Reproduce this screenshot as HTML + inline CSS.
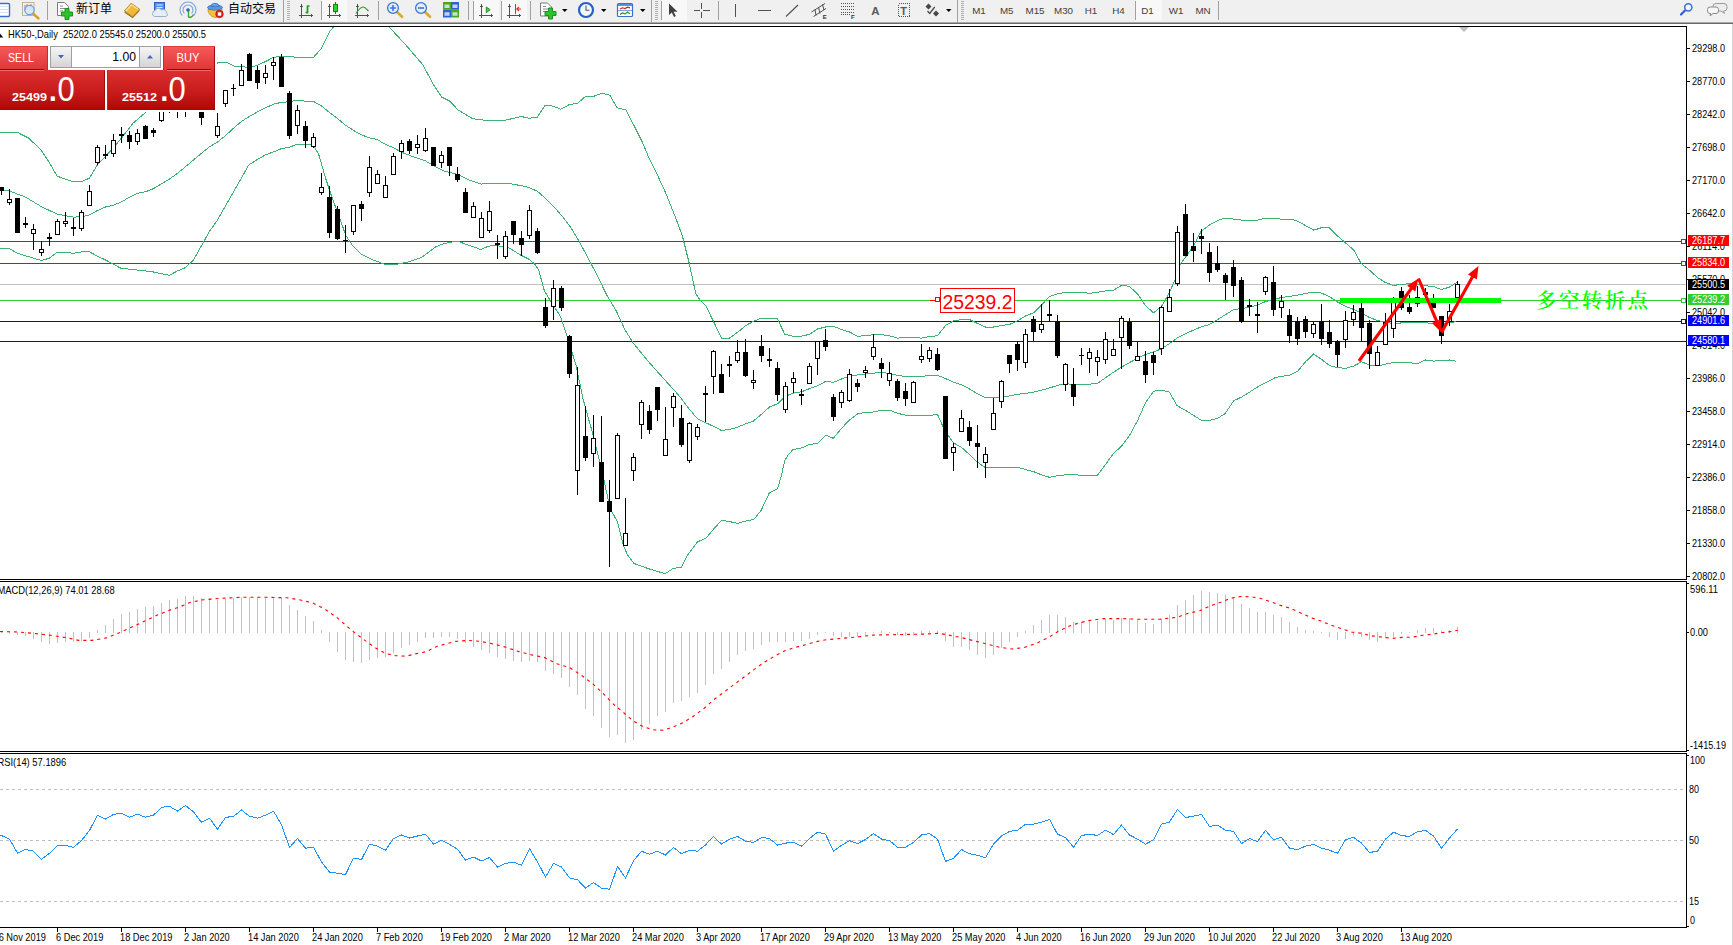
<!DOCTYPE html>
<html lang="zh"><head><meta charset="utf-8"><title>HK50-,Daily</title>
<style>html,body{margin:0;padding:0;background:#fff;overflow:hidden}svg{display:block}text{white-space:pre}</style>
</head><body>
<svg width="1733" height="945" viewBox="0 0 1733 945">
<defs>
<linearGradient id="gTab" x1="0" y1="0" x2="0" y2="1"><stop offset="0" stop-color="#f65a5a"/><stop offset="1" stop-color="#de3434"/></linearGradient>
<linearGradient id="gBox" x1="0" y1="0" x2="0" y2="1"><stop offset="0" stop-color="#dc3030"/><stop offset="0.55" stop-color="#c81c1c"/><stop offset="1" stop-color="#ae0606"/></linearGradient>
<linearGradient id="gBtn" x1="0" y1="0" x2="0" y2="1"><stop offset="0" stop-color="#f5f5f5"/><stop offset="0.5" stop-color="#e6e6e6"/><stop offset="1" stop-color="#d4d4d4"/></linearGradient>
<clipPath id="cMain"><rect x="0" y="27" width="1686" height="552"/></clipPath>
<clipPath id="cMacd"><rect x="0" y="582" width="1686" height="169"/></clipPath>
<clipPath id="cRsi"><rect x="0" y="754" width="1686" height="173"/></clipPath>
</defs>
<rect x="0" y="0" width="1733" height="945" fill="#ffffff" />
<g clip-path="url(#cMain)">
<g shape-rendering="crispEdges">
<rect x="0" y="284" width="1686" height="1" fill="#c0c0c0" />
<rect x="0" y="241" width="1686" height="1" fill="#ff0000" />
<rect x="0" y="263" width="1686" height="1" fill="#ff0000" />
<rect x="0" y="300" width="1686" height="1" fill="#32cd32" />
<rect x="0" y="321" width="1686" height="1" fill="#0000ff" />
<rect x="0" y="341" width="1686" height="1" fill="#0000ff" />
</g>
<polyline points="0,132.4 17.5,132.4 28.6,138.1 41,149.9 49.5,162.9 57.1,176.2 72.4,181.5 81.9,181.5 89.5,178.1 97.5,164.8 105.5,156.2 113.5,147.6 121.5,138.1 133.3,122.9 145.7,112.4 217.4,63 226.3,62 233.7,66 241.8,66.7 249.5,67.5 257.5,65.2 265.5,61.5 273.5,57.4 281.5,56.1 289.5,56.4 297.5,57.4 313.5,57.4 321.5,48.2 329.5,31.9 333.6,26.7 340,10 380,10 389.4,27.3 406.9,46.2 423,65 433.7,85.1 441.8,97.2 449.9,101.2 457.9,109.8 472.7,118.7 487.5,120.6 506.3,120 521.1,116.5 529.1,118.2 537.2,117.4 545.2,105.3 553.3,106.1 560.6,109.3 569.4,104.5 577.5,103.4 585.5,96.4 593.6,96.4 601.7,93.2 609.7,95.1 617.2,107.9 625.8,109.8 633.9,125.4 642,141.5 650,160.3 658.1,176.5 666.1,193.9 674.2,214.1 682.3,235.6 689,262.4 692.8,280 695.9,293.8 700,300 705.7,305.7 713.3,321 721.9,339 729.5,338.1 737.5,332.4 745.5,325.7 753.5,321.3 761,318.3 769.5,319 777.1,318.3 784.8,334.3 793.3,336.2 801.5,336.2 809.5,334.3 817.5,329 825.5,327 833.5,326.3 841.5,329.5 849.5,332 857.5,336.2 865.5,335.8 873.5,334.7 881.5,334.7 889.5,335.8 897.5,338.1 905.5,337.7 913.5,337.7 921.5,338.1 929.5,336.6 937.5,335.8 945.5,325.5 953.5,320.9 961.5,319.6 969.6,319.6 977.4,323.4 985.5,327 993.5,327 1001.6,325.5 1009.4,324.5 1017.4,320.9 1025.5,316 1033.5,312.8 1041.6,305 1049.4,296.5 1057.5,293.8 1065.5,292.3 1073.5,292.3 1081.6,292.3 1089.4,293.3 1097.5,292.3 1105.5,291 1113.6,290.2 1121.6,285.3 1129.4,286.4 1137.5,293.8 1145.5,305.8 1153.6,312.8 1161.4,306.5 1169,293.5 1175.1,279.4 1180.1,264.3 1186.1,256.3 1193.2,246.3 1201.2,231.2 1209.2,225.2 1218.3,220.1 1225.3,218.1 1233.4,219.1 1241.4,220.1 1249.4,220.1 1257.5,220.1 1265.5,218.1 1273.6,218.7 1281.6,219.1 1290.7,219.1 1297.7,221.1 1305.5,225.6 1313.8,230.2 1321.8,227.6 1328.8,227.2 1337.9,236.2 1345.9,243.2 1354,250.3 1361,263.3 1369.9,270.6 1377.5,277.5 1385,282.3 1393.3,285.4 1401.5,284.4 1409.5,283.7 1417.5,284.7 1425.5,285.8 1433.4,286.5 1441.4,289.6 1449.5,287.1 1457.5,281.9" fill="none" stroke="#3cb371" stroke-width="1" shape-rendering="crispEdges"/>
<polyline points="0,189.9 9.5,191 25.5,197.1 41.5,206.7 57.5,214.3 73.5,217.1 81.5,216.8 89.5,214.9 97.5,210.5 105.5,207 113.5,205.1 121.5,201.9 129.5,197.1 137.5,193.3 145.5,191.8 153.5,188.6 161.5,183.8 169.5,179 177.5,173.3 185.5,166.7 193.5,160 201.5,153.3 209.5,146.7 217.5,142 225.5,135.6 233.5,128.2 241.5,121.5 249.5,116.3 257.5,111.9 265.5,107.8 273.5,104.2 281.5,102.3 289.5,101.8 297.5,100.1 305.5,101.2 313.5,101.5 321.5,106 329.5,112.6 337.5,118.6 345.5,125.2 353.5,130.4 361.5,134.9 369.5,137.8 377.5,139.7 385.5,144.5 393.5,147.7 401.6,152.3 415.1,157.4 425.3,160.8 435.4,166.7 443.9,170.9 457.4,174.3 469.3,180.2 481.1,184.1 494.6,183.1 509.9,183.6 521.7,185.8 529.1,187.5 537.2,191.2 545.2,198 553.3,206 562.7,216.8 570.8,227.5 578.8,240.9 586.9,255.7 594.6,270.5 607.8,297 616.5,311.3 625.2,330.3 633.2,343 647.5,360.5 660.2,374.8 676,392.2 682.4,400 688.1,407.6 697.6,419 705.5,422.7 713.5,426.3 721.5,430.5 729.5,429.5 737.5,427.2 745.5,423.8 753.5,421 761.5,414.3 769.5,407 777.5,403.8 785.5,396.2 793.5,393 801.5,391.8 809.5,388.6 817.5,385.7 825.5,381.5 833.5,382.3 841.5,379 849.5,376.2 857.5,374.9 865.5,373.9 873.5,373.3 881.5,372 889.5,373.9 897.5,375.2 905.5,376.6 913.5,376.6 921.5,376.2 929.5,375.8 937.5,375.3 945.5,378.5 953.5,382.3 961.5,384.8 969.6,389 977.4,393.9 985.5,397.5 993.5,397.5 1001.6,397.1 1009.4,396 1017.4,394.3 1025.5,393.3 1033.5,392.2 1041.6,390.1 1049.4,388 1057.5,385.4 1065.5,383.7 1073.5,384.4 1081.6,384.4 1089.4,384.2 1097.5,383.3 1105.5,377.8 1113.6,372.1 1121.6,367.2 1129.4,362.6 1137.5,358.3 1145.5,354.5 1153.6,352 1161.4,348.8 1169.4,343.7 1177.5,337.7 1185.5,333.7 1193.6,330.1 1201.6,326.7 1209.4,324.6 1217.5,319.6 1225.5,314.6 1233.6,309.6 1241.4,308.6 1249.4,307.2 1257.5,305.2 1265.5,301.5 1273.6,299.5 1281.6,297.5 1289.4,296.5 1297.5,295.1 1305.5,293.5 1313.6,292.1 1321.4,293.1 1329.4,296.5 1337.6,302 1345.5,306.3 1353.5,309.4 1361.5,313 1369.5,317.5 1377.5,320.5 1385.4,322.1 1393.4,323.8 1401.5,322.9 1409.5,322.6 1417.5,322.2 1425.5,322.9 1433.4,323.2 1441.4,323.3 1449.5,322.9 1455.9,321.5" fill="none" stroke="#3cb371" stroke-width="1" shape-rendering="crispEdges"/>
<polyline points="0,248.2 8.6,248.2 17.5,253.3 25.5,255.8 33.5,258.1 41.5,260.6 49.5,258.1 57.1,252.4 65.5,252.4 73.5,253.3 81.5,252 88.6,251.4 97.5,256.2 105.5,260 113.5,264.2 121.5,268.6 129.5,269.1 137.5,270.1 145.5,270.9 153.5,272 161.5,273.7 169.5,275.2 177.5,270.9 185.5,267.6 193.5,260 201.5,245.7 209.5,231.4 217.5,220 225.5,206 233.5,192 241.5,178 248.5,165.2 257.5,159.3 265.5,154.9 273.5,151.9 281.5,148.6 289.5,147.1 297.5,144.2 305.5,144 310.7,144.5 313.5,145.5 318.6,154 325.4,177.7 332.2,198 339.8,218.3 345.7,235.3 352.5,245.4 360.9,253.9 372.8,259.8 386.3,264.9 398.2,264 410,261.5 421.9,257.3 428.6,252.2 435.4,247.1 442.2,244.1 452.3,242 457.4,241.2 469.3,245.4 481.1,249.6 487.9,246.3 494.6,245.4 508.2,247.4 520,254.7 528.5,259 534.5,263.8 538.7,270 544.3,290.6 550.6,301 560.2,316 567.3,336.7 576,365.2 583.3,400 592.9,434.3 602.4,472.4 610,508.6 617.6,521.9 623.3,544.8 627.1,554.3 633.8,563.4 648.1,568.6 665.2,573.7 672.9,568.6 681.4,567.2 688.1,554.3 697.6,541.9 705.9,538.2 713.5,529.2 721.5,520.4 729.6,521.6 737.6,523.3 745.7,521.1 753.8,519.4 761,510.6 769.4,492.8 777.5,488.9 781.3,475.9 784.7,460.6 788.9,453.9 793.1,449.6 801.6,447.9 809.2,444.6 817.7,443.4 825.6,435.2 833.3,438.3 842.2,427.6 849.5,420 857.5,413.9 865.5,412.4 873.5,412 881.5,410.1 889.5,410.1 897.5,413.3 905.5,415.2 913.5,415.2 921.5,415.6 929.5,415.6 937.5,414.3 942.7,426.1 949.1,436.7 953.5,443 961.5,447.3 969.6,454.7 977.4,462.1 985.5,467.8 993.5,467.8 1001.6,467.8 1009.4,467.8 1017.4,467.4 1025.5,469.5 1033.5,471.6 1041.6,474.8 1049.4,477.3 1057.5,475.8 1065.5,474.8 1073.5,474.8 1081.6,475.2 1089.4,475.2 1097.5,475.2 1105.5,464.6 1113.6,453.2 1121.6,446.2 1129.4,435.6 1137.5,420.8 1145.5,402.8 1153.6,391.2 1161.4,390.1 1169.5,392.2 1177,405.6 1185.2,410.3 1193.5,415.3 1201.5,420.4 1210,420.4 1217.6,418.3 1225.2,413.6 1233.5,400.9 1241.7,397 1250,391.8 1258.3,386.5 1266.5,382.3 1275.4,377.6 1281.7,376.3 1289.4,375.3 1297.6,371.3 1305.6,361.7 1313.5,354.1 1321.7,359.5 1329.4,365.5 1337.6,367.6 1345.5,368.3 1353.5,366.2 1361.5,361.7 1369.5,365.3 1377.5,366 1385.4,364.2 1393.4,362.5 1401.5,362.4 1409.5,362.8 1417.5,363.5 1425.5,360 1433.4,361.1 1441.4,360.7 1449.5,360 1456.5,361.4" fill="none" stroke="#3cb371" stroke-width="1" shape-rendering="crispEdges"/>
<g shape-rendering="crispEdges">
<rect x="1" y="187" width="1" height="8" fill="#000" />
<rect x="-1" y="187" width="5" height="4" fill="#000" />
<rect x="9" y="189" width="1" height="16" fill="#000" />
<rect x="7" y="199" width="5" height="4" fill="#000" />
<rect x="8" y="200" width="3" height="2" fill="#fff" />
<rect x="17" y="198" width="1" height="35" fill="#000" />
<rect x="15" y="198" width="5" height="35" fill="#000" />
<rect x="25" y="217" width="1" height="11" fill="#000" />
<rect x="23" y="223" width="5" height="2" fill="#000" />
<rect x="33" y="224" width="1" height="26" fill="#000" />
<rect x="31" y="229" width="5" height="5" fill="#000" />
<rect x="32" y="230" width="3" height="3" fill="#fff" />
<rect x="41" y="241" width="1" height="15" fill="#000" />
<rect x="39" y="249" width="5" height="4" fill="#000" />
<rect x="40" y="250" width="3" height="2" fill="#fff" />
<rect x="49" y="233" width="1" height="13" fill="#000" />
<rect x="47" y="237" width="5" height="2" fill="#000" />
<rect x="57" y="219" width="1" height="16" fill="#000" />
<rect x="55" y="221" width="5" height="14" fill="#000" />
<rect x="56" y="222" width="3" height="12" fill="#fff" />
<rect x="65" y="212" width="1" height="15" fill="#000" />
<rect x="63" y="221" width="5" height="3" fill="#000" />
<rect x="64" y="222" width="3" height="1" fill="#fff" />
<rect x="73" y="218" width="1" height="18" fill="#000" />
<rect x="71" y="227" width="5" height="2" fill="#000" />
<rect x="81" y="210" width="1" height="21" fill="#000" />
<rect x="79" y="212" width="5" height="17" fill="#000" />
<rect x="80" y="213" width="3" height="15" fill="#fff" />
<rect x="89" y="185" width="1" height="21" fill="#000" />
<rect x="87" y="191" width="5" height="15" fill="#000" />
<rect x="88" y="192" width="3" height="13" fill="#fff" />
<rect x="97" y="145" width="1" height="20" fill="#000" />
<rect x="95" y="147" width="5" height="16" fill="#000" />
<rect x="96" y="148" width="3" height="14" fill="#fff" />
<rect x="105" y="145" width="1" height="14" fill="#000" />
<rect x="103" y="154" width="5" height="2" fill="#000" />
<rect x="113" y="134" width="1" height="23" fill="#000" />
<rect x="111" y="140" width="5" height="14" fill="#000" />
<rect x="112" y="141" width="3" height="12" fill="#fff" />
<rect x="121" y="127" width="1" height="16" fill="#000" />
<rect x="119" y="134" width="5" height="2" fill="#000" />
<rect x="129" y="131" width="1" height="18" fill="#000" />
<rect x="127" y="135" width="5" height="7" fill="#000" />
<rect x="137" y="129" width="1" height="16" fill="#000" />
<rect x="135" y="133" width="5" height="9" fill="#000" />
<rect x="136" y="134" width="3" height="7" fill="#fff" />
<rect x="145" y="125" width="1" height="14" fill="#000" />
<rect x="143" y="126" width="5" height="13" fill="#000" />
<rect x="153" y="128" width="1" height="9" fill="#000" />
<rect x="151" y="130" width="5" height="3" fill="#000" />
<rect x="161" y="100" width="1" height="22" fill="#000" />
<rect x="159" y="104" width="5" height="17" fill="#000" />
<rect x="160" y="105" width="3" height="15" fill="#fff" />
<rect x="169" y="100" width="1" height="13" fill="#000" />
<rect x="167" y="108" width="5" height="1" fill="#000" />
<rect x="177" y="100" width="1" height="18" fill="#000" />
<rect x="175" y="106" width="5" height="1" fill="#000" />
<rect x="185" y="100" width="1" height="17" fill="#000" />
<rect x="183" y="105" width="5" height="1" fill="#000" />
<rect x="193" y="95" width="1" height="14" fill="#000" />
<rect x="191" y="98" width="5" height="10" fill="#000" />
<rect x="201" y="100" width="1" height="25" fill="#000" />
<rect x="199" y="100" width="5" height="18" fill="#000" />
<rect x="209" y="96" width="1" height="13" fill="#000" />
<rect x="207" y="98" width="5" height="10" fill="#000" />
<rect x="208" y="99" width="3" height="8" fill="#fff" />
<rect x="217" y="113" width="1" height="25" fill="#000" />
<rect x="215" y="126" width="5" height="10" fill="#000" />
<rect x="216" y="127" width="3" height="8" fill="#fff" />
<rect x="225" y="90" width="1" height="17" fill="#000" />
<rect x="223" y="90" width="5" height="14" fill="#000" />
<rect x="224" y="91" width="3" height="12" fill="#fff" />
<rect x="233" y="84" width="1" height="12" fill="#000" />
<rect x="231" y="88" width="5" height="1" fill="#000" />
<rect x="241" y="64" width="1" height="22" fill="#000" />
<rect x="239" y="70" width="5" height="16" fill="#000" />
<rect x="240" y="71" width="3" height="14" fill="#fff" />
<rect x="249" y="53" width="1" height="28" fill="#000" />
<rect x="247" y="54" width="5" height="27" fill="#000" />
<rect x="257" y="66" width="1" height="23" fill="#000" />
<rect x="255" y="70" width="5" height="13" fill="#000" />
<rect x="265" y="65" width="1" height="19" fill="#000" />
<rect x="263" y="73" width="5" height="5" fill="#000" />
<rect x="264" y="74" width="3" height="3" fill="#fff" />
<rect x="273" y="57" width="1" height="23" fill="#000" />
<rect x="271" y="62" width="5" height="4" fill="#000" />
<rect x="272" y="63" width="3" height="2" fill="#fff" />
<rect x="281" y="54" width="1" height="33" fill="#000" />
<rect x="279" y="57" width="5" height="30" fill="#000" />
<rect x="289" y="91" width="1" height="48" fill="#000" />
<rect x="287" y="93" width="5" height="43" fill="#000" />
<rect x="297" y="105" width="1" height="29" fill="#000" />
<rect x="295" y="110" width="5" height="16" fill="#000" />
<rect x="296" y="111" width="3" height="14" fill="#fff" />
<rect x="305" y="121" width="1" height="27" fill="#000" />
<rect x="303" y="126" width="5" height="15" fill="#000" />
<rect x="313" y="133" width="1" height="15" fill="#000" />
<rect x="311" y="137" width="5" height="10" fill="#000" />
<rect x="312" y="138" width="3" height="8" fill="#fff" />
<rect x="321" y="173" width="1" height="22" fill="#000" />
<rect x="319" y="187" width="5" height="6" fill="#000" />
<rect x="320" y="188" width="3" height="4" fill="#fff" />
<rect x="329" y="186" width="1" height="52" fill="#000" />
<rect x="327" y="197" width="5" height="36" fill="#000" />
<rect x="337" y="206" width="1" height="34" fill="#000" />
<rect x="335" y="209" width="5" height="30" fill="#000" />
<rect x="345" y="225" width="1" height="28" fill="#000" />
<rect x="343" y="240" width="5" height="1" fill="#000" />
<rect x="353" y="205" width="1" height="30" fill="#000" />
<rect x="351" y="205" width="5" height="27" fill="#000" />
<rect x="352" y="206" width="3" height="25" fill="#fff" />
<rect x="361" y="201" width="1" height="20" fill="#000" />
<rect x="359" y="204" width="5" height="5" fill="#000" />
<rect x="369" y="156" width="1" height="41" fill="#000" />
<rect x="367" y="167" width="5" height="26" fill="#000" />
<rect x="368" y="168" width="3" height="24" fill="#fff" />
<rect x="377" y="170" width="1" height="14" fill="#000" />
<rect x="375" y="174" width="5" height="10" fill="#000" />
<rect x="376" y="175" width="3" height="8" fill="#fff" />
<rect x="385" y="176" width="1" height="22" fill="#000" />
<rect x="383" y="185" width="5" height="13" fill="#000" />
<rect x="384" y="186" width="3" height="11" fill="#fff" />
<rect x="393" y="153" width="1" height="22" fill="#000" />
<rect x="391" y="156" width="5" height="19" fill="#000" />
<rect x="392" y="157" width="3" height="17" fill="#fff" />
<rect x="401" y="140" width="1" height="19" fill="#000" />
<rect x="399" y="143" width="5" height="9" fill="#000" />
<rect x="400" y="144" width="3" height="7" fill="#fff" />
<rect x="409" y="139" width="1" height="15" fill="#000" />
<rect x="407" y="141" width="5" height="10" fill="#000" />
<rect x="417" y="135" width="1" height="19" fill="#000" />
<rect x="415" y="144" width="5" height="4" fill="#000" />
<rect x="416" y="145" width="3" height="2" fill="#fff" />
<rect x="425" y="128" width="1" height="24" fill="#000" />
<rect x="423" y="138" width="5" height="13" fill="#000" />
<rect x="424" y="139" width="3" height="11" fill="#fff" />
<rect x="433" y="147" width="1" height="19" fill="#000" />
<rect x="431" y="147" width="5" height="19" fill="#000" />
<rect x="441" y="151" width="1" height="17" fill="#000" />
<rect x="439" y="155" width="5" height="8" fill="#000" />
<rect x="440" y="156" width="3" height="6" fill="#fff" />
<rect x="449" y="147" width="1" height="29" fill="#000" />
<rect x="447" y="147" width="5" height="19" fill="#000" />
<rect x="457" y="167" width="1" height="15" fill="#000" />
<rect x="455" y="174" width="5" height="6" fill="#000" />
<rect x="465" y="188" width="1" height="25" fill="#000" />
<rect x="463" y="192" width="5" height="21" fill="#000" />
<rect x="473" y="202" width="1" height="16" fill="#000" />
<rect x="471" y="206" width="5" height="12" fill="#000" />
<rect x="472" y="207" width="3" height="10" fill="#fff" />
<rect x="481" y="212" width="1" height="26" fill="#000" />
<rect x="479" y="218" width="5" height="20" fill="#000" />
<rect x="480" y="219" width="3" height="18" fill="#fff" />
<rect x="489" y="201" width="1" height="32" fill="#000" />
<rect x="487" y="211" width="5" height="20" fill="#000" />
<rect x="488" y="212" width="3" height="18" fill="#fff" />
<rect x="497" y="235" width="1" height="24" fill="#000" />
<rect x="495" y="243" width="5" height="2" fill="#000" />
<rect x="505" y="231" width="1" height="28" fill="#000" />
<rect x="503" y="236" width="5" height="21" fill="#000" />
<rect x="504" y="237" width="3" height="19" fill="#fff" />
<rect x="513" y="221" width="1" height="23" fill="#000" />
<rect x="511" y="221" width="5" height="14" fill="#000" />
<rect x="521" y="231" width="1" height="25" fill="#000" />
<rect x="519" y="238" width="5" height="7" fill="#000" />
<rect x="529" y="205" width="1" height="34" fill="#000" />
<rect x="527" y="210" width="5" height="26" fill="#000" />
<rect x="528" y="211" width="3" height="24" fill="#fff" />
<rect x="537" y="228" width="1" height="26" fill="#000" />
<rect x="535" y="231" width="5" height="22" fill="#000" />
<rect x="545" y="298" width="1" height="30" fill="#000" />
<rect x="543" y="307" width="5" height="19" fill="#000" />
<rect x="553" y="280" width="1" height="40" fill="#000" />
<rect x="551" y="288" width="5" height="19" fill="#000" />
<rect x="552" y="289" width="3" height="17" fill="#fff" />
<rect x="561" y="286" width="1" height="25" fill="#000" />
<rect x="559" y="288" width="5" height="20" fill="#000" />
<rect x="569" y="335" width="1" height="43" fill="#000" />
<rect x="567" y="336" width="5" height="38" fill="#000" />
<rect x="577" y="367" width="1" height="128" fill="#000" />
<rect x="575" y="385" width="5" height="86" fill="#000" />
<rect x="576" y="386" width="3" height="84" fill="#fff" />
<rect x="585" y="406" width="1" height="55" fill="#000" />
<rect x="583" y="436" width="5" height="22" fill="#000" />
<rect x="593" y="415" width="1" height="52" fill="#000" />
<rect x="591" y="438" width="5" height="16" fill="#000" />
<rect x="592" y="439" width="3" height="14" fill="#fff" />
<rect x="601" y="416" width="1" height="86" fill="#000" />
<rect x="599" y="462" width="5" height="40" fill="#000" />
<rect x="609" y="480" width="1" height="87" fill="#000" />
<rect x="607" y="501" width="5" height="11" fill="#000" />
<rect x="617" y="433" width="1" height="66" fill="#000" />
<rect x="615" y="435" width="5" height="64" fill="#000" />
<rect x="616" y="436" width="3" height="62" fill="#fff" />
<rect x="625" y="498" width="1" height="48" fill="#000" />
<rect x="623" y="533" width="5" height="13" fill="#000" />
<rect x="624" y="534" width="3" height="11" fill="#fff" />
<rect x="633" y="453" width="1" height="28" fill="#000" />
<rect x="631" y="457" width="5" height="14" fill="#000" />
<rect x="632" y="458" width="3" height="12" fill="#fff" />
<rect x="641" y="400" width="1" height="39" fill="#000" />
<rect x="639" y="402" width="5" height="23" fill="#000" />
<rect x="640" y="403" width="3" height="21" fill="#fff" />
<rect x="649" y="405" width="1" height="29" fill="#000" />
<rect x="647" y="411" width="5" height="19" fill="#000" />
<rect x="657" y="387" width="1" height="34" fill="#000" />
<rect x="655" y="387" width="5" height="23" fill="#000" />
<rect x="665" y="407" width="1" height="49" fill="#000" />
<rect x="663" y="439" width="5" height="17" fill="#000" />
<rect x="664" y="440" width="3" height="15" fill="#fff" />
<rect x="673" y="393" width="1" height="34" fill="#000" />
<rect x="671" y="396" width="5" height="12" fill="#000" />
<rect x="672" y="397" width="3" height="10" fill="#fff" />
<rect x="681" y="405" width="1" height="42" fill="#000" />
<rect x="679" y="418" width="5" height="27" fill="#000" />
<rect x="689" y="422" width="1" height="41" fill="#000" />
<rect x="687" y="423" width="5" height="38" fill="#000" />
<rect x="688" y="424" width="3" height="36" fill="#fff" />
<rect x="697" y="424" width="1" height="16" fill="#000" />
<rect x="695" y="427" width="5" height="10" fill="#000" />
<rect x="696" y="428" width="3" height="8" fill="#fff" />
<rect x="705" y="386" width="1" height="36" fill="#000" />
<rect x="703" y="393" width="5" height="2" fill="#000" />
<rect x="713" y="350" width="1" height="44" fill="#000" />
<rect x="711" y="351" width="5" height="26" fill="#000" />
<rect x="712" y="352" width="3" height="24" fill="#fff" />
<rect x="721" y="364" width="1" height="29" fill="#000" />
<rect x="719" y="374" width="5" height="19" fill="#000" />
<rect x="729" y="356" width="1" height="21" fill="#000" />
<rect x="727" y="364" width="5" height="2" fill="#000" />
<rect x="737" y="340" width="1" height="23" fill="#000" />
<rect x="735" y="352" width="5" height="9" fill="#000" />
<rect x="736" y="353" width="3" height="7" fill="#fff" />
<rect x="745" y="339" width="1" height="38" fill="#000" />
<rect x="743" y="352" width="5" height="24" fill="#000" />
<rect x="753" y="370" width="1" height="19" fill="#000" />
<rect x="751" y="380" width="5" height="3" fill="#000" />
<rect x="752" y="381" width="3" height="1" fill="#fff" />
<rect x="761" y="335" width="1" height="27" fill="#000" />
<rect x="759" y="346" width="5" height="10" fill="#000" />
<rect x="769" y="348" width="1" height="19" fill="#000" />
<rect x="767" y="359" width="5" height="2" fill="#000" />
<rect x="777" y="362" width="1" height="39" fill="#000" />
<rect x="775" y="368" width="5" height="27" fill="#000" />
<rect x="785" y="382" width="1" height="31" fill="#000" />
<rect x="783" y="386" width="5" height="24" fill="#000" />
<rect x="784" y="387" width="3" height="22" fill="#fff" />
<rect x="793" y="372" width="1" height="21" fill="#000" />
<rect x="791" y="378" width="5" height="5" fill="#000" />
<rect x="792" y="379" width="3" height="3" fill="#fff" />
<rect x="801" y="389" width="1" height="16" fill="#000" />
<rect x="799" y="394" width="5" height="2" fill="#000" />
<rect x="809" y="363" width="1" height="21" fill="#000" />
<rect x="807" y="366" width="5" height="18" fill="#000" />
<rect x="808" y="367" width="3" height="16" fill="#fff" />
<rect x="817" y="341" width="1" height="34" fill="#000" />
<rect x="815" y="341" width="5" height="18" fill="#000" />
<rect x="816" y="342" width="3" height="16" fill="#fff" />
<rect x="825" y="329" width="1" height="22" fill="#000" />
<rect x="823" y="340" width="5" height="7" fill="#000" />
<rect x="833" y="394" width="1" height="27" fill="#000" />
<rect x="831" y="397" width="5" height="20" fill="#000" />
<rect x="841" y="390" width="1" height="18" fill="#000" />
<rect x="839" y="392" width="5" height="11" fill="#000" />
<rect x="840" y="393" width="3" height="9" fill="#fff" />
<rect x="849" y="369" width="1" height="33" fill="#000" />
<rect x="847" y="374" width="5" height="27" fill="#000" />
<rect x="848" y="375" width="3" height="25" fill="#fff" />
<rect x="857" y="379" width="1" height="13" fill="#000" />
<rect x="855" y="383" width="5" height="4" fill="#000" />
<rect x="865" y="366" width="1" height="12" fill="#000" />
<rect x="863" y="370" width="5" height="3" fill="#000" />
<rect x="864" y="371" width="3" height="1" fill="#fff" />
<rect x="873" y="334" width="1" height="26" fill="#000" />
<rect x="871" y="347" width="5" height="10" fill="#000" />
<rect x="872" y="348" width="3" height="8" fill="#fff" />
<rect x="881" y="358" width="1" height="20" fill="#000" />
<rect x="879" y="363" width="5" height="6" fill="#000" />
<rect x="889" y="362" width="1" height="24" fill="#000" />
<rect x="887" y="373" width="5" height="8" fill="#000" />
<rect x="888" y="374" width="3" height="6" fill="#fff" />
<rect x="897" y="379" width="1" height="22" fill="#000" />
<rect x="895" y="381" width="5" height="17" fill="#000" />
<rect x="905" y="383" width="1" height="23" fill="#000" />
<rect x="903" y="391" width="5" height="8" fill="#000" />
<rect x="913" y="381" width="1" height="22" fill="#000" />
<rect x="911" y="382" width="5" height="21" fill="#000" />
<rect x="912" y="383" width="3" height="19" fill="#fff" />
<rect x="921" y="344" width="1" height="19" fill="#000" />
<rect x="919" y="356" width="5" height="4" fill="#000" />
<rect x="920" y="357" width="3" height="2" fill="#fff" />
<rect x="929" y="347" width="1" height="15" fill="#000" />
<rect x="927" y="350" width="5" height="9" fill="#000" />
<rect x="928" y="351" width="3" height="7" fill="#fff" />
<rect x="937" y="348" width="1" height="23" fill="#000" />
<rect x="935" y="354" width="5" height="16" fill="#000" />
<rect x="945" y="396" width="1" height="63" fill="#000" />
<rect x="943" y="396" width="5" height="63" fill="#000" />
<rect x="953" y="443" width="1" height="28" fill="#000" />
<rect x="951" y="447" width="5" height="6" fill="#000" />
<rect x="952" y="448" width="3" height="4" fill="#fff" />
<rect x="961" y="410" width="1" height="22" fill="#000" />
<rect x="959" y="418" width="5" height="14" fill="#000" />
<rect x="960" y="419" width="3" height="12" fill="#fff" />
<rect x="969" y="421" width="1" height="25" fill="#000" />
<rect x="967" y="427" width="5" height="14" fill="#000" />
<rect x="977" y="425" width="1" height="43" fill="#000" />
<rect x="975" y="443" width="5" height="4" fill="#000" />
<rect x="985" y="447" width="1" height="31" fill="#000" />
<rect x="983" y="454" width="5" height="9" fill="#000" />
<rect x="984" y="455" width="3" height="7" fill="#fff" />
<rect x="993" y="398" width="1" height="32" fill="#000" />
<rect x="991" y="413" width="5" height="17" fill="#000" />
<rect x="992" y="414" width="3" height="15" fill="#fff" />
<rect x="1001" y="380" width="1" height="28" fill="#000" />
<rect x="999" y="381" width="5" height="21" fill="#000" />
<rect x="1000" y="382" width="3" height="19" fill="#fff" />
<rect x="1009" y="355" width="1" height="18" fill="#000" />
<rect x="1007" y="355" width="5" height="9" fill="#000" />
<rect x="1017" y="341" width="1" height="30" fill="#000" />
<rect x="1015" y="344" width="5" height="16" fill="#000" />
<rect x="1025" y="329" width="1" height="39" fill="#000" />
<rect x="1023" y="334" width="5" height="29" fill="#000" />
<rect x="1024" y="335" width="3" height="27" fill="#fff" />
<rect x="1033" y="316" width="1" height="25" fill="#000" />
<rect x="1031" y="319" width="5" height="13" fill="#000" />
<rect x="1041" y="304" width="1" height="29" fill="#000" />
<rect x="1039" y="324" width="5" height="6" fill="#000" />
<rect x="1040" y="325" width="3" height="4" fill="#fff" />
<rect x="1049" y="300" width="1" height="22" fill="#000" />
<rect x="1047" y="314" width="5" height="2" fill="#000" />
<rect x="1057" y="315" width="1" height="43" fill="#000" />
<rect x="1055" y="321" width="5" height="35" fill="#000" />
<rect x="1065" y="363" width="1" height="28" fill="#000" />
<rect x="1063" y="364" width="5" height="21" fill="#000" />
<rect x="1064" y="365" width="3" height="19" fill="#fff" />
<rect x="1073" y="368" width="1" height="38" fill="#000" />
<rect x="1071" y="384" width="5" height="13" fill="#000" />
<rect x="1081" y="348" width="1" height="17" fill="#000" />
<rect x="1079" y="355" width="5" height="1" fill="#000" />
<rect x="1089" y="348" width="1" height="25" fill="#000" />
<rect x="1087" y="352" width="5" height="7" fill="#000" />
<rect x="1088" y="353" width="3" height="5" fill="#fff" />
<rect x="1097" y="350" width="1" height="26" fill="#000" />
<rect x="1095" y="357" width="5" height="5" fill="#000" />
<rect x="1096" y="358" width="3" height="3" fill="#fff" />
<rect x="1105" y="332" width="1" height="32" fill="#000" />
<rect x="1103" y="339" width="5" height="21" fill="#000" />
<rect x="1104" y="340" width="3" height="19" fill="#fff" />
<rect x="1113" y="339" width="1" height="17" fill="#000" />
<rect x="1111" y="349" width="5" height="7" fill="#000" />
<rect x="1112" y="350" width="3" height="5" fill="#fff" />
<rect x="1121" y="316" width="1" height="53" fill="#000" />
<rect x="1119" y="318" width="5" height="20" fill="#000" />
<rect x="1120" y="319" width="3" height="18" fill="#fff" />
<rect x="1129" y="318" width="1" height="31" fill="#000" />
<rect x="1127" y="322" width="5" height="24" fill="#000" />
<rect x="1137" y="341" width="1" height="20" fill="#000" />
<rect x="1135" y="356" width="5" height="5" fill="#000" />
<rect x="1136" y="357" width="3" height="3" fill="#fff" />
<rect x="1145" y="351" width="1" height="32" fill="#000" />
<rect x="1143" y="361" width="5" height="14" fill="#000" />
<rect x="1153" y="352" width="1" height="23" fill="#000" />
<rect x="1151" y="355" width="5" height="8" fill="#000" />
<rect x="1161" y="306" width="1" height="49" fill="#000" />
<rect x="1159" y="307" width="5" height="42" fill="#000" />
<rect x="1160" y="308" width="3" height="40" fill="#fff" />
<rect x="1169" y="289" width="1" height="23" fill="#000" />
<rect x="1167" y="297" width="5" height="15" fill="#000" />
<rect x="1168" y="298" width="3" height="13" fill="#fff" />
<rect x="1177" y="226" width="1" height="60" fill="#000" />
<rect x="1175" y="232" width="5" height="52" fill="#000" />
<rect x="1176" y="233" width="3" height="50" fill="#fff" />
<rect x="1185" y="204" width="1" height="52" fill="#000" />
<rect x="1183" y="214" width="5" height="42" fill="#000" />
<rect x="1193" y="233" width="1" height="29" fill="#000" />
<rect x="1191" y="246" width="5" height="5" fill="#000" />
<rect x="1201" y="229" width="1" height="25" fill="#000" />
<rect x="1199" y="236" width="5" height="3" fill="#000" />
<rect x="1209" y="243" width="1" height="39" fill="#000" />
<rect x="1207" y="252" width="5" height="21" fill="#000" />
<rect x="1217" y="246" width="1" height="26" fill="#000" />
<rect x="1215" y="263" width="5" height="7" fill="#000" />
<rect x="1225" y="273" width="1" height="27" fill="#000" />
<rect x="1223" y="275" width="5" height="8" fill="#000" />
<rect x="1233" y="260" width="1" height="37" fill="#000" />
<rect x="1231" y="267" width="5" height="19" fill="#000" />
<rect x="1241" y="277" width="1" height="46" fill="#000" />
<rect x="1239" y="280" width="5" height="42" fill="#000" />
<rect x="1249" y="299" width="1" height="17" fill="#000" />
<rect x="1247" y="305" width="5" height="2" fill="#000" />
<rect x="1257" y="302" width="1" height="31" fill="#000" />
<rect x="1255" y="314" width="5" height="2" fill="#000" />
<rect x="1265" y="276" width="1" height="19" fill="#000" />
<rect x="1263" y="277" width="5" height="15" fill="#000" />
<rect x="1264" y="278" width="3" height="13" fill="#fff" />
<rect x="1273" y="266" width="1" height="50" fill="#000" />
<rect x="1271" y="282" width="5" height="28" fill="#000" />
<rect x="1281" y="295" width="1" height="23" fill="#000" />
<rect x="1279" y="301" width="5" height="7" fill="#000" />
<rect x="1280" y="302" width="3" height="5" fill="#fff" />
<rect x="1289" y="309" width="1" height="34" fill="#000" />
<rect x="1287" y="315" width="5" height="21" fill="#000" />
<rect x="1297" y="317" width="1" height="28" fill="#000" />
<rect x="1295" y="321" width="5" height="18" fill="#000" />
<rect x="1305" y="316" width="1" height="22" fill="#000" />
<rect x="1303" y="319" width="5" height="13" fill="#000" />
<rect x="1313" y="322" width="1" height="16" fill="#000" />
<rect x="1311" y="324" width="5" height="10" fill="#000" />
<rect x="1312" y="325" width="3" height="8" fill="#fff" />
<rect x="1321" y="304" width="1" height="41" fill="#000" />
<rect x="1319" y="321" width="5" height="18" fill="#000" />
<rect x="1329" y="320" width="1" height="28" fill="#000" />
<rect x="1327" y="332" width="5" height="12" fill="#000" />
<rect x="1337" y="340" width="1" height="27" fill="#000" />
<rect x="1335" y="341" width="5" height="14" fill="#000" />
<rect x="1345" y="311" width="1" height="37" fill="#000" />
<rect x="1343" y="320" width="5" height="20" fill="#000" />
<rect x="1344" y="321" width="3" height="18" fill="#fff" />
<rect x="1353" y="305" width="1" height="21" fill="#000" />
<rect x="1351" y="312" width="5" height="8" fill="#000" />
<rect x="1352" y="313" width="3" height="6" fill="#fff" />
<rect x="1361" y="303" width="1" height="38" fill="#000" />
<rect x="1359" y="308" width="5" height="20" fill="#000" />
<rect x="1369" y="320" width="1" height="49" fill="#000" />
<rect x="1367" y="323" width="5" height="31" fill="#000" />
<rect x="1377" y="346" width="1" height="20" fill="#000" />
<rect x="1375" y="352" width="5" height="14" fill="#000" />
<rect x="1376" y="353" width="3" height="12" fill="#fff" />
<rect x="1385" y="313" width="1" height="32" fill="#000" />
<rect x="1383" y="322" width="5" height="23" fill="#000" />
<rect x="1384" y="323" width="3" height="21" fill="#fff" />
<rect x="1393" y="297" width="1" height="41" fill="#000" />
<rect x="1391" y="301" width="5" height="28" fill="#000" />
<rect x="1392" y="302" width="3" height="26" fill="#fff" />
<rect x="1401" y="287" width="1" height="23" fill="#000" />
<rect x="1399" y="291" width="5" height="17" fill="#000" />
<rect x="1409" y="295" width="1" height="19" fill="#000" />
<rect x="1407" y="307" width="5" height="5" fill="#000" />
<rect x="1417" y="286" width="1" height="21" fill="#000" />
<rect x="1415" y="297" width="5" height="7" fill="#000" />
<rect x="1416" y="298" width="3" height="5" fill="#fff" />
<rect x="1425" y="288" width="1" height="8" fill="#000" />
<rect x="1423" y="292" width="5" height="3" fill="#000" />
<rect x="1433" y="294" width="1" height="14" fill="#000" />
<rect x="1431" y="303" width="5" height="5" fill="#000" />
<rect x="1441" y="316" width="1" height="28" fill="#000" />
<rect x="1439" y="316" width="5" height="20" fill="#000" />
<rect x="1449" y="304" width="1" height="22" fill="#000" />
<rect x="1447" y="311" width="5" height="11" fill="#000" />
<rect x="1448" y="312" width="3" height="9" fill="#fff" />
<rect x="1457" y="281" width="1" height="17" fill="#000" />
<rect x="1455" y="284" width="5" height="14" fill="#000" />
<rect x="1456" y="285" width="3" height="12" fill="#fff" />
</g>
<rect x="1340" y="298" width="161" height="5" fill="#00ff00" shape-rendering="crispEdges"/>
<g shape-rendering="crispEdges">
<rect x="930" y="300" width="6" height="1" fill="#ff0000" />
<rect x="935.5" y="297.5" width="4" height="4" fill="#fff" stroke="#ff0000" stroke-width="1"/>
<rect x="940.5" y="288.5" width="74" height="24" fill="#fff" stroke="#ff0000" stroke-width="1"/>
</g>
<text x="942.5" y="308.5" font-family="Liberation Sans, sans-serif" font-size="20.5" fill="#ff0000" textLength="70" lengthAdjust="spacingAndGlyphs">25239.2</text>
<text x="1536" y="307.5" font-family="Liberation Serif, Noto Serif CJK SC, serif" font-weight="600" font-size="20.5" fill="#00ff00" textLength="112" lengthAdjust="spacing">多空转折点</text>
<line x1="1359.0" y1="361.0" x2="1412.4" y2="287.0" stroke="#ff0000" stroke-width="3.1"/>
<polygon points="1418.5,278.5 1415.3,291.6 1407.1,285.7" fill="#ff0000"/>
<line x1="1418.5" y1="278.5" x2="1437.4" y2="322.8" stroke="#ff0000" stroke-width="3.1"/>
<polygon points="1441.5,332.5 1431.9,323.0 1441.3,319.0" fill="#ff0000"/>
<line x1="1441.5" y1="332.5" x2="1473.4" y2="275.2" stroke="#ff0000" stroke-width="3.1"/>
<polygon points="1478.5,266.0 1476.9,279.4 1468.0,274.4" fill="#ff0000"/>
</g>
<g clip-path="url(#cMacd)">
<g shape-rendering="crispEdges">
<rect x="1" y="632" width="1" height="1" fill="#c0c0c0" />
<rect x="9" y="632" width="1" height="2" fill="#c0c0c0" />
<rect x="17" y="632" width="1" height="3" fill="#c0c0c0" />
<rect x="25" y="632" width="1" height="4" fill="#c0c0c0" />
<rect x="33" y="632" width="1" height="7" fill="#c0c0c0" />
<rect x="41" y="632" width="1" height="10" fill="#c0c0c0" />
<rect x="49" y="632" width="1" height="12" fill="#c0c0c0" />
<rect x="57" y="632" width="1" height="11" fill="#c0c0c0" />
<rect x="65" y="632" width="1" height="10" fill="#c0c0c0" />
<rect x="73" y="632" width="1" height="10" fill="#c0c0c0" />
<rect x="81" y="632" width="1" height="9" fill="#c0c0c0" />
<rect x="89" y="632" width="1" height="6" fill="#c0c0c0" />
<rect x="97" y="630" width="1" height="3" fill="#c0c0c0" />
<rect x="105" y="625" width="1" height="8" fill="#c0c0c0" />
<rect x="113" y="619" width="1" height="14" fill="#c0c0c0" />
<rect x="121" y="614" width="1" height="19" fill="#c0c0c0" />
<rect x="129" y="612" width="1" height="21" fill="#c0c0c0" />
<rect x="137" y="609" width="1" height="24" fill="#c0c0c0" />
<rect x="145" y="607" width="1" height="26" fill="#c0c0c0" />
<rect x="153" y="606" width="1" height="27" fill="#c0c0c0" />
<rect x="161" y="603" width="1" height="30" fill="#c0c0c0" />
<rect x="169" y="600" width="1" height="33" fill="#c0c0c0" />
<rect x="177" y="599" width="1" height="34" fill="#c0c0c0" />
<rect x="185" y="596" width="1" height="37" fill="#c0c0c0" />
<rect x="193" y="596" width="1" height="37" fill="#c0c0c0" />
<rect x="201" y="598" width="1" height="35" fill="#c0c0c0" />
<rect x="209" y="598" width="1" height="35" fill="#c0c0c0" />
<rect x="217" y="600" width="1" height="33" fill="#c0c0c0" />
<rect x="225" y="599" width="1" height="34" fill="#c0c0c0" />
<rect x="233" y="598" width="1" height="35" fill="#c0c0c0" />
<rect x="241" y="597" width="1" height="36" fill="#c0c0c0" />
<rect x="249" y="597" width="1" height="36" fill="#c0c0c0" />
<rect x="257" y="597" width="1" height="36" fill="#c0c0c0" />
<rect x="265" y="597" width="1" height="36" fill="#c0c0c0" />
<rect x="273" y="597" width="1" height="36" fill="#c0c0c0" />
<rect x="281" y="598" width="1" height="35" fill="#c0c0c0" />
<rect x="289" y="605" width="1" height="28" fill="#c0c0c0" />
<rect x="297" y="610" width="1" height="23" fill="#c0c0c0" />
<rect x="305" y="616" width="1" height="17" fill="#c0c0c0" />
<rect x="313" y="621" width="1" height="12" fill="#c0c0c0" />
<rect x="321" y="630" width="1" height="3" fill="#c0c0c0" />
<rect x="329" y="632" width="1" height="10" fill="#c0c0c0" />
<rect x="337" y="632" width="1" height="20" fill="#c0c0c0" />
<rect x="345" y="632" width="1" height="28" fill="#c0c0c0" />
<rect x="353" y="632" width="1" height="30" fill="#c0c0c0" />
<rect x="361" y="632" width="1" height="31" fill="#c0c0c0" />
<rect x="369" y="632" width="1" height="28" fill="#c0c0c0" />
<rect x="377" y="632" width="1" height="26" fill="#c0c0c0" />
<rect x="385" y="632" width="1" height="25" fill="#c0c0c0" />
<rect x="393" y="632" width="1" height="21" fill="#c0c0c0" />
<rect x="401" y="632" width="1" height="16" fill="#c0c0c0" />
<rect x="409" y="632" width="1" height="13" fill="#c0c0c0" />
<rect x="417" y="632" width="1" height="10" fill="#c0c0c0" />
<rect x="425" y="632" width="1" height="6" fill="#c0c0c0" />
<rect x="433" y="632" width="1" height="6" fill="#c0c0c0" />
<rect x="441" y="632" width="1" height="5" fill="#c0c0c0" />
<rect x="449" y="632" width="1" height="5" fill="#c0c0c0" />
<rect x="457" y="632" width="1" height="7" fill="#c0c0c0" />
<rect x="465" y="632" width="1" height="11" fill="#c0c0c0" />
<rect x="473" y="632" width="1" height="15" fill="#c0c0c0" />
<rect x="481" y="632" width="1" height="18" fill="#c0c0c0" />
<rect x="489" y="632" width="1" height="21" fill="#c0c0c0" />
<rect x="497" y="632" width="1" height="25" fill="#c0c0c0" />
<rect x="505" y="632" width="1" height="27" fill="#c0c0c0" />
<rect x="513" y="632" width="1" height="29" fill="#c0c0c0" />
<rect x="521" y="632" width="1" height="30" fill="#c0c0c0" />
<rect x="529" y="632" width="1" height="29" fill="#c0c0c0" />
<rect x="537" y="632" width="1" height="30" fill="#c0c0c0" />
<rect x="545" y="632" width="1" height="39" fill="#c0c0c0" />
<rect x="553" y="632" width="1" height="42" fill="#c0c0c0" />
<rect x="561" y="632" width="1" height="46" fill="#c0c0c0" />
<rect x="569" y="632" width="1" height="55" fill="#c0c0c0" />
<rect x="577" y="632" width="1" height="63" fill="#c0c0c0" />
<rect x="585" y="632" width="1" height="77" fill="#c0c0c0" />
<rect x="593" y="632" width="1" height="84" fill="#c0c0c0" />
<rect x="601" y="632" width="1" height="96" fill="#c0c0c0" />
<rect x="609" y="632" width="1" height="105" fill="#c0c0c0" />
<rect x="617" y="632" width="1" height="103" fill="#c0c0c0" />
<rect x="625" y="632" width="1" height="111" fill="#c0c0c0" />
<rect x="633" y="632" width="1" height="108" fill="#c0c0c0" />
<rect x="641" y="632" width="1" height="98" fill="#c0c0c0" />
<rect x="649" y="632" width="1" height="92" fill="#c0c0c0" />
<rect x="657" y="632" width="1" height="84" fill="#c0c0c0" />
<rect x="665" y="632" width="1" height="80" fill="#c0c0c0" />
<rect x="673" y="632" width="1" height="71" fill="#c0c0c0" />
<rect x="681" y="632" width="1" height="69" fill="#c0c0c0" />
<rect x="689" y="632" width="1" height="65" fill="#c0c0c0" />
<rect x="697" y="632" width="1" height="61" fill="#c0c0c0" />
<rect x="705" y="632" width="1" height="53" fill="#c0c0c0" />
<rect x="713" y="632" width="1" height="42" fill="#c0c0c0" />
<rect x="721" y="632" width="1" height="37" fill="#c0c0c0" />
<rect x="729" y="632" width="1" height="30" fill="#c0c0c0" />
<rect x="737" y="632" width="1" height="23" fill="#c0c0c0" />
<rect x="745" y="632" width="1" height="19" fill="#c0c0c0" />
<rect x="753" y="632" width="1" height="17" fill="#c0c0c0" />
<rect x="761" y="632" width="1" height="13" fill="#c0c0c0" />
<rect x="769" y="632" width="1" height="10" fill="#c0c0c0" />
<rect x="777" y="632" width="1" height="10" fill="#c0c0c0" />
<rect x="785" y="632" width="1" height="10" fill="#c0c0c0" />
<rect x="793" y="632" width="1" height="9" fill="#c0c0c0" />
<rect x="801" y="632" width="1" height="9" fill="#c0c0c0" />
<rect x="809" y="632" width="1" height="7" fill="#c0c0c0" />
<rect x="817" y="632" width="1" height="3" fill="#c0c0c0" />
<rect x="825" y="632" width="1" height="1" fill="#c0c0c0" />
<rect x="833" y="632" width="1" height="4" fill="#c0c0c0" />
<rect x="841" y="632" width="1" height="5" fill="#c0c0c0" />
<rect x="849" y="632" width="1" height="5" fill="#c0c0c0" />
<rect x="857" y="632" width="1" height="5" fill="#c0c0c0" />
<rect x="865" y="632" width="1" height="3" fill="#c0c0c0" />
<rect x="873" y="632" width="1" height="1" fill="#c0c0c0" />
<rect x="881" y="631" width="1" height="2" fill="#c0c0c0" />
<rect x="889" y="632" width="1" height="1" fill="#c0c0c0" />
<rect x="897" y="632" width="1" height="3" fill="#c0c0c0" />
<rect x="905" y="632" width="1" height="4" fill="#c0c0c0" />
<rect x="913" y="632" width="1" height="4" fill="#c0c0c0" />
<rect x="921" y="631" width="1" height="2" fill="#c0c0c0" />
<rect x="929" y="631" width="1" height="2" fill="#c0c0c0" />
<rect x="937" y="631" width="1" height="2" fill="#c0c0c0" />
<rect x="945" y="632" width="1" height="9" fill="#c0c0c0" />
<rect x="953" y="632" width="1" height="15" fill="#c0c0c0" />
<rect x="961" y="632" width="1" height="15" fill="#c0c0c0" />
<rect x="969" y="632" width="1" height="18" fill="#c0c0c0" />
<rect x="977" y="632" width="1" height="23" fill="#c0c0c0" />
<rect x="985" y="632" width="1" height="26" fill="#c0c0c0" />
<rect x="993" y="632" width="1" height="23" fill="#c0c0c0" />
<rect x="1001" y="632" width="1" height="16" fill="#c0c0c0" />
<rect x="1009" y="632" width="1" height="10" fill="#c0c0c0" />
<rect x="1017" y="632" width="1" height="5" fill="#c0c0c0" />
<rect x="1025" y="631" width="1" height="2" fill="#c0c0c0" />
<rect x="1033" y="625" width="1" height="8" fill="#c0c0c0" />
<rect x="1041" y="620" width="1" height="13" fill="#c0c0c0" />
<rect x="1049" y="615" width="1" height="18" fill="#c0c0c0" />
<rect x="1057" y="615" width="1" height="18" fill="#c0c0c0" />
<rect x="1065" y="617" width="1" height="16" fill="#c0c0c0" />
<rect x="1073" y="622" width="1" height="11" fill="#c0c0c0" />
<rect x="1081" y="622" width="1" height="11" fill="#c0c0c0" />
<rect x="1089" y="621" width="1" height="12" fill="#c0c0c0" />
<rect x="1097" y="621" width="1" height="12" fill="#c0c0c0" />
<rect x="1105" y="619" width="1" height="14" fill="#c0c0c0" />
<rect x="1113" y="620" width="1" height="13" fill="#c0c0c0" />
<rect x="1121" y="618" width="1" height="15" fill="#c0c0c0" />
<rect x="1129" y="618" width="1" height="15" fill="#c0c0c0" />
<rect x="1137" y="620" width="1" height="13" fill="#c0c0c0" />
<rect x="1145" y="623" width="1" height="10" fill="#c0c0c0" />
<rect x="1153" y="624" width="1" height="9" fill="#c0c0c0" />
<rect x="1161" y="619" width="1" height="14" fill="#c0c0c0" />
<rect x="1169" y="615" width="1" height="18" fill="#c0c0c0" />
<rect x="1177" y="605" width="1" height="28" fill="#c0c0c0" />
<rect x="1185" y="600" width="1" height="33" fill="#c0c0c0" />
<rect x="1193" y="595" width="1" height="38" fill="#c0c0c0" />
<rect x="1201" y="591" width="1" height="42" fill="#c0c0c0" />
<rect x="1209" y="592" width="1" height="41" fill="#c0c0c0" />
<rect x="1217" y="593" width="1" height="40" fill="#c0c0c0" />
<rect x="1225" y="595" width="1" height="38" fill="#c0c0c0" />
<rect x="1233" y="598" width="1" height="35" fill="#c0c0c0" />
<rect x="1241" y="604" width="1" height="29" fill="#c0c0c0" />
<rect x="1249" y="608" width="1" height="25" fill="#c0c0c0" />
<rect x="1257" y="612" width="1" height="21" fill="#c0c0c0" />
<rect x="1265" y="612" width="1" height="21" fill="#c0c0c0" />
<rect x="1273" y="615" width="1" height="18" fill="#c0c0c0" />
<rect x="1281" y="617" width="1" height="16" fill="#c0c0c0" />
<rect x="1289" y="622" width="1" height="11" fill="#c0c0c0" />
<rect x="1297" y="627" width="1" height="6" fill="#c0c0c0" />
<rect x="1305" y="630" width="1" height="3" fill="#c0c0c0" />
<rect x="1313" y="631" width="1" height="2" fill="#c0c0c0" />
<rect x="1321" y="632" width="1" height="1" fill="#c0c0c0" />
<rect x="1329" y="632" width="1" height="5" fill="#c0c0c0" />
<rect x="1337" y="632" width="1" height="8" fill="#c0c0c0" />
<rect x="1345" y="632" width="1" height="7" fill="#c0c0c0" />
<rect x="1353" y="632" width="1" height="4" fill="#c0c0c0" />
<rect x="1361" y="632" width="1" height="5" fill="#c0c0c0" />
<rect x="1369" y="632" width="1" height="8" fill="#c0c0c0" />
<rect x="1377" y="632" width="1" height="10" fill="#c0c0c0" />
<rect x="1385" y="632" width="1" height="6" fill="#c0c0c0" />
<rect x="1393" y="632" width="1" height="5" fill="#c0c0c0" />
<rect x="1401" y="632" width="1" height="2" fill="#c0c0c0" />
<rect x="1409" y="632" width="1" height="1" fill="#c0c0c0" />
<rect x="1417" y="630" width="1" height="3" fill="#c0c0c0" />
<rect x="1425" y="628" width="1" height="5" fill="#c0c0c0" />
<rect x="1433" y="628" width="1" height="5" fill="#c0c0c0" />
<rect x="1441" y="631" width="1" height="2" fill="#c0c0c0" />
<rect x="1449" y="630" width="1" height="3" fill="#c0c0c0" />
<rect x="1457" y="627" width="1" height="6" fill="#c0c0c0" />
</g>
<polyline points="0,631.5 17.8,632 33,633.3 50.8,635.3 66,637.6 78.7,640.4 91.4,640.4 106.6,637.9 119.3,632.8 132,627 144.7,621.1 157.4,615 170.1,610 180.3,606.7 190.4,602.3 203.1,599.8 218.3,598.5 241.2,597.3 266.6,597.3 286.9,597.8 299.6,599.8 312.3,602.8 325,609.2 337.6,618.1 347.8,627 355.4,633.3 365.6,640.9 375.7,648 385.9,653.6 396,655.7 406.2,656.2 416.3,653.6 426.5,651.6 436.7,646.5 440.2,645.5 455.4,641.4 468.1,640.4 480.8,641.4 493.5,644 506.2,647.3 518.9,651.6 531.5,654.9 544.2,657.4 556.9,663.8 569.6,667.6 582.3,676 592.5,683.6 602.6,693 612.8,703.6 622.9,712 633.1,720.9 643.2,726.7 653.4,729.8 663.6,730.3 673.7,726.7 683.9,722.2 694,715.8 704.2,708.2 714.3,699.3 724.5,691.7 734.6,684.1 744.8,676.5 755,668.9 765.1,661.7 775.3,655.7 785.4,650.6 795.6,647.3 805.7,644.7 815.9,641.7 826,639.7 841.3,638.4 856.5,637.1 872.7,635.1 898.1,634.6 923.5,634.1 938.7,633.3 948.9,635.1 961.5,637.6 974.2,640.9 986.9,644 999.6,647.3 1012.3,649 1025,647.3 1037.7,642.7 1047.9,637.9 1058,631.5 1068.2,626.5 1078.3,623.2 1088.5,620.6 1103.7,618.6 1121.5,618.6 1139.3,619.3 1159.6,619.3 1177.3,617.3 1187.5,613.5 1200.2,610.5 1210.3,605.9 1220.5,602.3 1230.6,598.3 1240.8,596.5 1250.9,596.8 1260.2,598.3 1270.3,601.6 1280.5,605.4 1290.6,608.4 1300.8,613 1310.9,617.6 1321.1,621.1 1331.2,625.2 1341.4,628.7 1351.5,632 1361.7,633.3 1371.9,635.9 1382,637.1 1392.2,638.4 1402.3,637.4 1412.5,637.1 1422.6,635.3 1432.8,634.1 1442.9,632.5 1453.1,631.3 1457.7,630.3" fill="none" stroke="#ff0000" stroke-width="1.1" stroke-dasharray="3 4"/>
</g>
<g clip-path="url(#cRsi)">
<line x1="0" y1="789.5" x2="1686" y2="789.5" stroke="#c0c0c0" stroke-width="1" stroke-dasharray="3 3" shape-rendering="crispEdges"/>
<line x1="0" y1="840.5" x2="1686" y2="840.5" stroke="#c0c0c0" stroke-width="1" stroke-dasharray="3 3" shape-rendering="crispEdges"/>
<line x1="0" y1="901.5" x2="1686" y2="901.5" stroke="#c0c0c0" stroke-width="1" stroke-dasharray="3 3" shape-rendering="crispEdges"/>
<polyline points="-6.5,833 1.5,835.5 9.5,839.1 17.5,853.0 25.5,849.5 33.5,851.2 41.5,859.4 49.5,853.3 57.5,845.4 65.5,845.4 73.5,847.4 81.5,840.6 89.5,830.4 97.5,815.2 105.5,819.0 113.5,814.4 121.5,813.2 129.5,817.2 137.5,814.2 145.5,817.2 153.5,815.2 161.5,807.3 169.5,806.3 177.5,811.1 185.5,805.5 193.5,811.9 201.5,822.3 209.5,818.2 217.5,829.2 225.5,817.5 233.5,816.2 241.5,810.1 249.5,816.2 257.5,818.2 265.5,815.2 273.5,811.1 281.5,824.6 289.5,847.4 297.5,838.5 305.5,848.2 313.5,847.4 321.5,861.9 329.5,872.1 337.5,873.3 345.5,874.6 353.5,858.1 361.5,859.4 369.5,844.1 377.5,846.2 385.5,850.2 393.5,838.5 401.5,835.0 409.5,838.0 417.5,836.0 425.5,834.2 433.5,844.1 441.5,840.1 449.5,844.4 457.5,849.2 465.5,860.1 473.5,857.1 481.5,860.9 489.5,857.6 497.5,867.0 505.5,863.4 513.5,862.2 521.5,865.2 529.5,848.7 537.5,861.9 545.5,877.1 553.5,863.4 561.5,867.0 569.5,877.9 577.5,879.7 585.5,888.1 593.5,882.5 601.5,888.1 609.5,889.3 617.5,866.5 625.5,877.9 633.5,860.9 641.5,851.2 649.5,854.3 657.5,851.2 665.5,855.0 673.5,847.4 681.5,853.8 689.5,850.2 697.5,851.2 705.5,844.9 713.5,836.5 721.5,844.1 729.5,839.3 737.5,836.5 745.5,841.1 753.5,842.4 761.5,837.5 769.5,838.5 777.5,845.1 785.5,843.1 793.5,842.4 801.5,846.2 809.5,838.5 817.5,832.2 825.5,834.2 833.5,851.2 841.5,845.4 849.5,840.6 857.5,843.6 865.5,839.5 873.5,833.5 881.5,839.1 889.5,840.6 897.5,847.2 905.5,847.2 913.5,842.4 921.5,835.0 929.5,833.5 937.5,839.1 945.5,861.4 953.5,858.3 961.5,849.5 969.5,853.8 977.5,855.3 985.5,857.6 993.5,844.1 1001.5,836.0 1009.5,831.4 1017.5,830.2 1025.5,824.3 1033.5,824.1 1041.5,822.3 1049.5,819.3 1057.5,834.2 1065.5,837.5 1073.5,847.4 1081.5,835.5 1089.5,834.2 1097.5,835.5 1105.5,830.2 1113.5,834.5 1121.5,825.1 1129.5,835.0 1137.5,839.1 1145.5,844.1 1153.5,839.8 1161.5,824.1 1169.5,822.0 1177.5,809.4 1185.5,817.5 1193.5,816.2 1201.5,814.4 1209.5,826.4 1217.5,825.1 1225.5,830.2 1233.5,831.4 1241.5,843.6 1249.5,838.5 1257.5,841.6 1265.5,830.4 1273.5,839.8 1281.5,837.3 1289.5,848.2 1297.5,849.5 1305.5,846.2 1313.5,844.4 1321.5,848.2 1329.5,850.2 1337.5,853.3 1345.5,839.8 1353.5,837.3 1361.5,843.1 1369.5,852.5 1377.5,851.2 1385.5,839.1 1393.5,832.2 1401.5,835.5 1409.5,836.5 1417.5,831.7 1425.5,830.4 1433.5,836.0 1441.5,848.2 1449.5,838.0 1457.5,828.9" fill="none" stroke="#1e90ff" stroke-width="1" shape-rendering="crispEdges"/>
</g>
<g shape-rendering="crispEdges">
<rect x="0" y="26" width="1687" height="1" fill="#000" />
<rect x="0" y="579" width="1687" height="1" fill="#000" />
<rect x="0" y="581" width="1687" height="1" fill="#000" />
<rect x="0" y="751" width="1687" height="1" fill="#000" />
<rect x="0" y="753" width="1687" height="1" fill="#000" />
<rect x="0" y="927" width="1687" height="1" fill="#000" />
<rect x="1686" y="26" width="1" height="554" fill="#000" />
<rect x="1686" y="581" width="1" height="171" fill="#000" />
<rect x="1686" y="753" width="1" height="175" fill="#000" />
<rect x="1687" y="48" width="3" height="1" fill="#000" />
<rect x="1687" y="81" width="3" height="1" fill="#000" />
<rect x="1687" y="114" width="3" height="1" fill="#000" />
<rect x="1687" y="147" width="3" height="1" fill="#000" />
<rect x="1687" y="180" width="3" height="1" fill="#000" />
<rect x="1687" y="213" width="3" height="1" fill="#000" />
<rect x="1687" y="246" width="3" height="1" fill="#000" />
<rect x="1687" y="279" width="3" height="1" fill="#000" />
<rect x="1687" y="312" width="3" height="1" fill="#000" />
<rect x="1687" y="345" width="3" height="1" fill="#000" />
<rect x="1687" y="378" width="3" height="1" fill="#000" />
<rect x="1687" y="411" width="3" height="1" fill="#000" />
<rect x="1687" y="444" width="3" height="1" fill="#000" />
<rect x="1687" y="477" width="3" height="1" fill="#000" />
<rect x="1687" y="510" width="3" height="1" fill="#000" />
<rect x="1687" y="543" width="3" height="1" fill="#000" />
<rect x="1687" y="576" width="3" height="1" fill="#000" />
<rect x="1687" y="583" width="2" height="1" fill="#000" />
<rect x="1687" y="632" width="2" height="1" fill="#000" />
<rect x="1687" y="750" width="2" height="1" fill="#000" />
<rect x="1687" y="755" width="2" height="1" fill="#000" />
<rect x="1687" y="926" width="2" height="1" fill="#000" />
<rect x="57" y="928" width="1" height="4" fill="#000" />
<rect x="121" y="928" width="1" height="4" fill="#000" />
<rect x="185" y="928" width="1" height="4" fill="#000" />
<rect x="249" y="928" width="1" height="4" fill="#000" />
<rect x="313" y="928" width="1" height="4" fill="#000" />
<rect x="377" y="928" width="1" height="4" fill="#000" />
<rect x="441" y="928" width="1" height="4" fill="#000" />
<rect x="505" y="928" width="1" height="4" fill="#000" />
<rect x="569" y="928" width="1" height="4" fill="#000" />
<rect x="633" y="928" width="1" height="4" fill="#000" />
<rect x="697" y="928" width="1" height="4" fill="#000" />
<rect x="761" y="928" width="1" height="4" fill="#000" />
<rect x="825" y="928" width="1" height="4" fill="#000" />
<rect x="889" y="928" width="1" height="4" fill="#000" />
<rect x="953" y="928" width="1" height="4" fill="#000" />
<rect x="1017" y="928" width="1" height="4" fill="#000" />
<rect x="1081" y="928" width="1" height="4" fill="#000" />
<rect x="1145" y="928" width="1" height="4" fill="#000" />
<rect x="1209" y="928" width="1" height="4" fill="#000" />
<rect x="1273" y="928" width="1" height="4" fill="#000" />
<rect x="1337" y="928" width="1" height="4" fill="#000" />
<rect x="1401" y="928" width="1" height="4" fill="#000" />
<rect x="1732" y="24" width="1" height="921" fill="#d4d4d4" />
</g>
<text x="1692" y="51.6" font-family="Liberation Sans, sans-serif" font-size="10" fill="#000" textLength="33" lengthAdjust="spacingAndGlyphs">29298.0</text>
<text x="1692" y="84.6" font-family="Liberation Sans, sans-serif" font-size="10" fill="#000" textLength="33" lengthAdjust="spacingAndGlyphs">28770.0</text>
<text x="1692" y="117.6" font-family="Liberation Sans, sans-serif" font-size="10" fill="#000" textLength="33" lengthAdjust="spacingAndGlyphs">28242.0</text>
<text x="1692" y="150.6" font-family="Liberation Sans, sans-serif" font-size="10" fill="#000" textLength="33" lengthAdjust="spacingAndGlyphs">27698.0</text>
<text x="1692" y="183.6" font-family="Liberation Sans, sans-serif" font-size="10" fill="#000" textLength="33" lengthAdjust="spacingAndGlyphs">27170.0</text>
<text x="1692" y="216.6" font-family="Liberation Sans, sans-serif" font-size="10" fill="#000" textLength="33" lengthAdjust="spacingAndGlyphs">26642.0</text>
<text x="1692" y="249.6" font-family="Liberation Sans, sans-serif" font-size="10" fill="#000" textLength="33" lengthAdjust="spacingAndGlyphs">26114.0</text>
<text x="1692" y="282.6" font-family="Liberation Sans, sans-serif" font-size="10" fill="#000" textLength="33" lengthAdjust="spacingAndGlyphs">25570.0</text>
<text x="1692" y="315.6" font-family="Liberation Sans, sans-serif" font-size="10" fill="#000" textLength="33" lengthAdjust="spacingAndGlyphs">25042.0</text>
<text x="1692" y="348.6" font-family="Liberation Sans, sans-serif" font-size="10" fill="#000" textLength="33" lengthAdjust="spacingAndGlyphs">24514.0</text>
<text x="1692" y="381.6" font-family="Liberation Sans, sans-serif" font-size="10" fill="#000" textLength="33" lengthAdjust="spacingAndGlyphs">23986.0</text>
<text x="1692" y="414.6" font-family="Liberation Sans, sans-serif" font-size="10" fill="#000" textLength="33" lengthAdjust="spacingAndGlyphs">23458.0</text>
<text x="1692" y="447.6" font-family="Liberation Sans, sans-serif" font-size="10" fill="#000" textLength="33" lengthAdjust="spacingAndGlyphs">22914.0</text>
<text x="1692" y="480.6" font-family="Liberation Sans, sans-serif" font-size="10" fill="#000" textLength="33" lengthAdjust="spacingAndGlyphs">22386.0</text>
<text x="1692" y="513.6" font-family="Liberation Sans, sans-serif" font-size="10" fill="#000" textLength="33" lengthAdjust="spacingAndGlyphs">21858.0</text>
<text x="1692" y="546.6" font-family="Liberation Sans, sans-serif" font-size="10" fill="#000" textLength="33" lengthAdjust="spacingAndGlyphs">21330.0</text>
<text x="1692" y="579.6" font-family="Liberation Sans, sans-serif" font-size="10" fill="#000" textLength="33" lengthAdjust="spacingAndGlyphs">20802.0</text>
<text x="1690" y="592.6" font-family="Liberation Sans, sans-serif" font-size="10" fill="#000" textLength="28" lengthAdjust="spacingAndGlyphs">596.11</text>
<text x="1690" y="636.4" font-family="Liberation Sans, sans-serif" font-size="10" fill="#000" textLength="18" lengthAdjust="spacingAndGlyphs">0.00</text>
<text x="1690" y="748.6" font-family="Liberation Sans, sans-serif" font-size="10" fill="#000" textLength="36" lengthAdjust="spacingAndGlyphs">-1415.19</text>
<text transform="translate(1690,764.4) scale(0.9,1)" font-family="Liberation Sans, sans-serif" font-size="10" fill="#000">100</text>
<text transform="translate(1689,793.4) scale(0.9,1)" font-family="Liberation Sans, sans-serif" font-size="10" fill="#000">80</text>
<text transform="translate(1689,844.4) scale(0.9,1)" font-family="Liberation Sans, sans-serif" font-size="10" fill="#000">50</text>
<text transform="translate(1689,905.4) scale(0.9,1)" font-family="Liberation Sans, sans-serif" font-size="10" fill="#000">15</text>
<text transform="translate(1690,924.4) scale(0.9,1)" font-family="Liberation Sans, sans-serif" font-size="10" fill="#000">0</text>
<g shape-rendering="crispEdges">
<rect x="1688" y="235" width="41" height="11" fill="#ff0000" />
<rect x="1681.5" y="239.5" width="4" height="4" fill="#fff" stroke="#ff0000" stroke-width="1"/>
</g>
<text x="1692" y="244.2" font-family="Liberation Sans, sans-serif" font-size="10" fill="#fff" textLength="33" lengthAdjust="spacingAndGlyphs">26187.7</text>
<g shape-rendering="crispEdges">
<rect x="1688" y="257" width="41" height="11" fill="#ff0000" />
<rect x="1681.5" y="261.5" width="4" height="4" fill="#fff" stroke="#ff0000" stroke-width="1"/>
</g>
<text x="1692" y="266.2" font-family="Liberation Sans, sans-serif" font-size="10" fill="#fff" textLength="33" lengthAdjust="spacingAndGlyphs">25834.0</text>
<g shape-rendering="crispEdges">
<rect x="1688" y="279" width="41" height="11" fill="#000000" />
</g>
<text x="1692" y="288.2" font-family="Liberation Sans, sans-serif" font-size="10" fill="#fff" textLength="33" lengthAdjust="spacingAndGlyphs">25500.5</text>
<g shape-rendering="crispEdges">
<rect x="1688" y="294" width="41" height="11" fill="#32cd32" />
<rect x="1681.5" y="298.5" width="4" height="4" fill="#fff" stroke="#32cd32" stroke-width="1"/>
</g>
<text x="1692" y="303.2" font-family="Liberation Sans, sans-serif" font-size="10" fill="#fff" textLength="33" lengthAdjust="spacingAndGlyphs">25239.2</text>
<g shape-rendering="crispEdges">
<rect x="1688" y="315" width="41" height="11" fill="#0000ff" />
<rect x="1681.5" y="319.5" width="4" height="4" fill="#fff" stroke="#0000ff" stroke-width="1"/>
</g>
<text x="1692" y="324.2" font-family="Liberation Sans, sans-serif" font-size="10" fill="#fff" textLength="33" lengthAdjust="spacingAndGlyphs">24901.6</text>
<g shape-rendering="crispEdges">
<rect x="1688" y="335" width="41" height="11" fill="#0000ff" />
</g>
<text x="1692" y="344.2" font-family="Liberation Sans, sans-serif" font-size="10" fill="#fff" textLength="33" lengthAdjust="spacingAndGlyphs">24580.1</text>
<text transform="translate(-6.5,940.6) scale(0.925,1)" font-family="Liberation Sans, sans-serif" font-size="10" fill="#000">26 Nov 2019</text>
<text transform="translate(56,940.6) scale(0.925,1)" font-family="Liberation Sans, sans-serif" font-size="10" fill="#000">6 Dec 2019</text>
<text transform="translate(120,940.6) scale(0.925,1)" font-family="Liberation Sans, sans-serif" font-size="10" fill="#000">18 Dec 2019</text>
<text transform="translate(184,940.6) scale(0.925,1)" font-family="Liberation Sans, sans-serif" font-size="10" fill="#000">2 Jan 2020</text>
<text transform="translate(248,940.6) scale(0.925,1)" font-family="Liberation Sans, sans-serif" font-size="10" fill="#000">14 Jan 2020</text>
<text transform="translate(312,940.6) scale(0.925,1)" font-family="Liberation Sans, sans-serif" font-size="10" fill="#000">24 Jan 2020</text>
<text transform="translate(376,940.6) scale(0.925,1)" font-family="Liberation Sans, sans-serif" font-size="10" fill="#000">7 Feb 2020</text>
<text transform="translate(440,940.6) scale(0.925,1)" font-family="Liberation Sans, sans-serif" font-size="10" fill="#000">19 Feb 2020</text>
<text transform="translate(504,940.6) scale(0.925,1)" font-family="Liberation Sans, sans-serif" font-size="10" fill="#000">2 Mar 2020</text>
<text transform="translate(568,940.6) scale(0.925,1)" font-family="Liberation Sans, sans-serif" font-size="10" fill="#000">12 Mar 2020</text>
<text transform="translate(632,940.6) scale(0.925,1)" font-family="Liberation Sans, sans-serif" font-size="10" fill="#000">24 Mar 2020</text>
<text transform="translate(696,940.6) scale(0.925,1)" font-family="Liberation Sans, sans-serif" font-size="10" fill="#000">3 Apr 2020</text>
<text transform="translate(760,940.6) scale(0.925,1)" font-family="Liberation Sans, sans-serif" font-size="10" fill="#000">17 Apr 2020</text>
<text transform="translate(824,940.6) scale(0.925,1)" font-family="Liberation Sans, sans-serif" font-size="10" fill="#000">29 Apr 2020</text>
<text transform="translate(888,940.6) scale(0.925,1)" font-family="Liberation Sans, sans-serif" font-size="10" fill="#000">13 May 2020</text>
<text transform="translate(952,940.6) scale(0.925,1)" font-family="Liberation Sans, sans-serif" font-size="10" fill="#000">25 May 2020</text>
<text transform="translate(1016,940.6) scale(0.925,1)" font-family="Liberation Sans, sans-serif" font-size="10" fill="#000">4 Jun 2020</text>
<text transform="translate(1080,940.6) scale(0.925,1)" font-family="Liberation Sans, sans-serif" font-size="10" fill="#000">16 Jun 2020</text>
<text transform="translate(1144,940.6) scale(0.925,1)" font-family="Liberation Sans, sans-serif" font-size="10" fill="#000">29 Jun 2020</text>
<text transform="translate(1208,940.6) scale(0.925,1)" font-family="Liberation Sans, sans-serif" font-size="10" fill="#000">10 Jul 2020</text>
<text transform="translate(1272,940.6) scale(0.925,1)" font-family="Liberation Sans, sans-serif" font-size="10" fill="#000">22 Jul 2020</text>
<text transform="translate(1336,940.6) scale(0.925,1)" font-family="Liberation Sans, sans-serif" font-size="10" fill="#000">3 Aug 2020</text>
<text transform="translate(1400,940.6) scale(0.925,1)" font-family="Liberation Sans, sans-serif" font-size="10" fill="#000">13 Aug 2020</text>
<text transform="translate(-2.6,594.2) scale(0.94,1)" font-family="Liberation Sans, sans-serif" font-size="10" fill="#000">MACD(12,26,9) 74.01 28.68</text>
<text transform="translate(-2.6,766.2) scale(0.94,1)" font-family="Liberation Sans, sans-serif" font-size="10" fill="#000">RSI(14) 57.1896</text>
<polygon points="1459,27 1469,27 1464,32" fill="#bdbdbd"/>
<polygon points="0,33.5 3.2,37.5 0,37.5" fill="#000"/>
<text x="8" y="38.3" font-family="Liberation Sans, sans-serif" font-size="10.2" fill="#000" textLength="198" lengthAdjust="spacingAndGlyphs">HK50-,Daily  25202.0 25545.0 25200.0 25500.5</text>
<g shape-rendering="crispEdges">
<rect x="0" y="44" width="217" height="68" fill="#ffffff" />
<rect x="0" y="46" width="48" height="25" fill="url(#gTab)" />
<rect x="163" y="46" width="52" height="25" fill="url(#gTab)" />
<rect x="0" y="70" width="105" height="40" fill="url(#gBox)" />
<rect x="107" y="70" width="108" height="40" fill="url(#gBox)" />
<rect x="0" y="46" width="48" height="1" fill="#e03c3c" />
<rect x="163" y="46" width="52" height="1" fill="#e03c3c" />
<rect x="0" y="69" width="44" height="1" fill="#960000" />
<rect x="167" y="69" width="44" height="1" fill="#960000" />
<rect x="0" y="70" width="44" height="1" fill="#ec6a6a" />
<rect x="167" y="70" width="44" height="1" fill="#ec6a6a" />
<rect x="47" y="46" width="1" height="24" fill="#cc2a2a" />
<rect x="163" y="46" width="1" height="24" fill="#cc2a2a" />
<rect x="104" y="71" width="1" height="39" fill="#a80808" />
<rect x="214" y="47" width="1" height="63" fill="#a80808" />
<rect x="107" y="71" width="1" height="39" fill="#c42020" />
<rect x="50.5" y="46.5" width="110" height="21" fill="#ffffff" stroke="#9aa0aa" stroke-width="1"/>
<rect x="51" y="47" width="20" height="20" fill="url(#gBtn)" />
<rect x="71" y="47" width="1" height="20" fill="#9aa0aa" />
<rect x="140" y="47" width="20" height="20" fill="url(#gBtn)" />
<rect x="139" y="47" width="1" height="20" fill="#9aa0aa" />
</g>
<polygon points="58,55 64,55 61,58.5" fill="#4a5ec8"/>
<polygon points="147,58.5 153,58.5 150,55" fill="#4a5ec8"/>
<text x="21" y="61.5" font-family="Liberation Sans, sans-serif" font-size="12" fill="#fff" text-anchor="middle" textLength="26" lengthAdjust="spacingAndGlyphs">SELL</text>
<text x="188" y="61.5" font-family="Liberation Sans, sans-serif" font-size="12" fill="#fff" text-anchor="middle" textLength="23" lengthAdjust="spacingAndGlyphs">BUY</text>
<text x="136" y="61" font-family="Liberation Sans, sans-serif" font-size="12.2" fill="#000" text-anchor="end">1.00</text>
<text x="12" y="101" font-family="Liberation Sans, sans-serif" font-size="11.5" font-weight="bold" fill="#fff" textLength="35" lengthAdjust="spacingAndGlyphs">25499</text>
<text x="122" y="101" font-family="Liberation Sans, sans-serif" font-size="11.5" font-weight="bold" fill="#fff" textLength="35" lengthAdjust="spacingAndGlyphs">25512</text>
<text x="47" y="101" font-family="Liberation Sans, sans-serif" font-size="42" fill="#fff">.</text>
<text x="57.4" y="101" font-family="Liberation Sans, sans-serif" font-size="34.5" fill="#fff" textLength="17.2" lengthAdjust="spacingAndGlyphs">0</text>
<text x="158.5" y="101" font-family="Liberation Sans, sans-serif" font-size="42" fill="#fff">.</text>
<text x="168.4" y="101" font-family="Liberation Sans, sans-serif" font-size="34.5" fill="#fff" textLength="17.2" lengthAdjust="spacingAndGlyphs">0</text>
<g id="toolbar">
<rect x="0" y="0" width="1733" height="22" fill="#f0f0f0" shape-rendering="crispEdges"/>
<rect x="0" y="22" width="1733" height="1" fill="#a8a8a8" shape-rendering="crispEdges"/>
<rect x="0" y="23" width="1733" height="1" fill="#6a6a6a" shape-rendering="crispEdges"/>
<g shape-rendering="crispEdges">
<rect x="47" y="1" width="1" height="19" fill="#a0a0a0" />
<rect x="321" y="1" width="1" height="19" fill="#a0a0a0" />
<rect x="378" y="1" width="1" height="19" fill="#a0a0a0" />
<rect x="468" y="1" width="1" height="19" fill="#a0a0a0" />
<rect x="473" y="1" width="1" height="19" fill="#a0a0a0" />
<rect x="501" y="1" width="1" height="19" fill="#a0a0a0" />
<rect x="530" y="1" width="1" height="19" fill="#a0a0a0" />
<rect x="661" y="1" width="1" height="19" fill="#a0a0a0" />
<rect x="718" y="1" width="1" height="19" fill="#a0a0a0" />
<rect x="1135" y="1" width="1" height="19" fill="#a0a0a0" />
<rect x="1218" y="1" width="1" height="19" fill="#a0a0a0" />
<rect x="283" y="0" width="1" height="22" fill="#a0a0a0" />
<rect x="651" y="0" width="1" height="22" fill="#a0a0a0" />
<rect x="957" y="0" width="1" height="22" fill="#a0a0a0" />
<rect x="287" y="1" width="3" height="1" fill="#b0b0b0" />
<rect x="287" y="3" width="3" height="1" fill="#b0b0b0" />
<rect x="287" y="5" width="3" height="1" fill="#b0b0b0" />
<rect x="287" y="7" width="3" height="1" fill="#b0b0b0" />
<rect x="287" y="9" width="3" height="1" fill="#b0b0b0" />
<rect x="287" y="11" width="3" height="1" fill="#b0b0b0" />
<rect x="287" y="13" width="3" height="1" fill="#b0b0b0" />
<rect x="287" y="15" width="3" height="1" fill="#b0b0b0" />
<rect x="287" y="17" width="3" height="1" fill="#b0b0b0" />
<rect x="287" y="19" width="3" height="1" fill="#b0b0b0" />
<rect x="655" y="1" width="3" height="1" fill="#b0b0b0" />
<rect x="655" y="3" width="3" height="1" fill="#b0b0b0" />
<rect x="655" y="5" width="3" height="1" fill="#b0b0b0" />
<rect x="655" y="7" width="3" height="1" fill="#b0b0b0" />
<rect x="655" y="9" width="3" height="1" fill="#b0b0b0" />
<rect x="655" y="11" width="3" height="1" fill="#b0b0b0" />
<rect x="655" y="13" width="3" height="1" fill="#b0b0b0" />
<rect x="655" y="15" width="3" height="1" fill="#b0b0b0" />
<rect x="655" y="17" width="3" height="1" fill="#b0b0b0" />
<rect x="655" y="19" width="3" height="1" fill="#b0b0b0" />
<rect x="961" y="1" width="3" height="1" fill="#b0b0b0" />
<rect x="961" y="3" width="3" height="1" fill="#b0b0b0" />
<rect x="961" y="5" width="3" height="1" fill="#b0b0b0" />
<rect x="961" y="7" width="3" height="1" fill="#b0b0b0" />
<rect x="961" y="9" width="3" height="1" fill="#b0b0b0" />
<rect x="961" y="11" width="3" height="1" fill="#b0b0b0" />
<rect x="961" y="13" width="3" height="1" fill="#b0b0b0" />
<rect x="961" y="15" width="3" height="1" fill="#b0b0b0" />
<rect x="961" y="17" width="3" height="1" fill="#b0b0b0" />
<rect x="961" y="19" width="3" height="1" fill="#b0b0b0" />
<rect x="322" y="0" width="25" height="21" fill="#f8f8f8" />
<rect x="474" y="0" width="25" height="21" fill="#f8f8f8" />
<rect x="502" y="0" width="25" height="21" fill="#f8f8f8" />
<rect x="662" y="0" width="25" height="21" fill="#f8f8f8" />
<rect x="1136" y="0" width="26" height="21" fill="#f8f8f8" />
</g>
<rect x="-4.5" y="3.5" width="14" height="13" fill="#ffffff" stroke="#3a6fd0" stroke-width="1.4" rx="1"/>
<line x1="-3" y1="6.5" x2="8" y2="6.5" stroke="#d4def6" stroke-width="1"/>
<line x1="-3" y1="9.5" x2="8" y2="9.5" stroke="#d4def6" stroke-width="1"/>
<line x1="-3" y1="12.5" x2="8" y2="12.5" stroke="#d4def6" stroke-width="1"/>
<rect x="22.5" y="2.5" width="11.5" height="13" fill="#f4f0e4" stroke="#c0b498" stroke-width="1"/>
<path d="M25 5v6M27 4v5M31 4v6" stroke="#8090a8" stroke-width="1" fill="none"/>
<line x1="33" y1="13.5" x2="38.5" y2="18.5" stroke="#e0a020" stroke-width="2.4" stroke-linecap="round"/>
<circle cx="29.5" cy="10" r="4.6" fill="#d4e6fa" fill-opacity="0.85" stroke="#6c9ce0" stroke-width="1.2"/>
<path d="M57.5 2.5h7l4 4v9h-11z" fill="#fdfdfd" stroke="#7a7a7a" stroke-width="1"/>
<path d="M60.0 6.0h3M60.0 8.5h5M60.0 11.0h3" stroke="#909090" stroke-width="1" fill="none"/>
<path d="M65 8.5h4v3.5h3.5v4h-3.5v3.5h-4v-3.5h-3.5v-4h3.5z" fill="#2ec22e" stroke="#138a13" stroke-width="0.9"/>
<text x="76" y="13.2" font-family="Liberation Sans, Noto Sans CJK SC, sans-serif" font-size="12" fill="#000">新订单</text>
<path d="M124.3 12.6 L131.2 4.6 L139.8 10.8 L132.6 18.2 Z" fill="#9a6a14"/>
<path d="M124.3 11 L131.2 3.2 L139.8 9.4 L132.6 16.8 Z" fill="#eeb83c" stroke="#b8841c" stroke-width="0.9"/>
<path d="M126 11 L131.6 4.8 L137.8 9.2" fill="none" stroke="#fbe496" stroke-width="1.2"/>
<rect x="154.5" y="2.5" width="10" height="8.5" fill="#4a90e8" stroke="#2a62c0" stroke-width="1"/>
<path d="M156.5 5h6M156.5 7.5h6" stroke="#d8e8ff" stroke-width="1"/>
<path d="M154.5 16.5a3 3 0 0 1 .5-5.8a3.6 3.6 0 0 1 6.6-.6a3.2 3.2 0 0 1 5 2.8a2 2 0 0 1-.8 3.6z" fill="#e6eef8" stroke="#9ab0cc" stroke-width="1"/>
<path d="M182.2 15.5a8 8 0 1 1 11.6 0M184.4 13.4a5 5 0 1 1 7.2 0" fill="none" stroke="#7aa2e2" stroke-width="1.1"/>
<circle cx="188" cy="10" r="1.8" fill="#2a5fc8"/>
<path d="M188.5 11v6a4 4 0 0 0 5-2.5" fill="none" stroke="#3aa83a" stroke-width="1.4"/>
<path d="M208 9.5 C208 14 212 17.5 216 17.5 L222 12 L222 9 Z" fill="#f2c23c" stroke="#c89418" stroke-width="0.9"/>
<ellipse cx="215" cy="7.5" rx="7.5" ry="2.6" fill="#5c9ae0" stroke="#3a6fc0" stroke-width="0.8"/>
<path d="M211 6.5a4 3.2 0 0 1 8 0z" fill="#6ca6e8" stroke="#3a6fc0" stroke-width="0.8"/>
<circle cx="219.5" cy="14" r="3.8" fill="#e02020" stroke="#a01010" stroke-width="0.6"/>
<rect x="217.8" y="12.3" width="3.4" height="3.4" fill="#ffffff" />
<text x="228" y="13.2" font-family="Liberation Sans, Noto Sans CJK SC, sans-serif" font-size="12" fill="#000">自动交易</text>
<path d="M301.5 4v14M299 15.5h14" stroke="#505050" stroke-width="1" fill="none" shape-rendering="crispEdges"/>
<path d="M300 6h3M311 14.0v3" stroke="#505050" stroke-width="1" fill="none" shape-rendering="crispEdges"/>
<path d="M307.5 5.5v8M307.5 6h2M305.5 12.5h2" stroke="#1a9a1a" stroke-width="1.7" fill="none"/>
<path d="M329.5 4v14M327 15.5h14" stroke="#505050" stroke-width="1" fill="none" shape-rendering="crispEdges"/>
<path d="M328 6h3M339 14.0v3" stroke="#505050" stroke-width="1" fill="none" shape-rendering="crispEdges"/>
<path d="M335.5 2v12" stroke="#1a7a1a" stroke-width="1" shape-rendering="crispEdges"/>
<rect x="333.5" y="4.5" width="4" height="7" fill="#30d030" stroke="#128a12" stroke-width="1"/>
<path d="M357.5 4v14M355 15.5h14" stroke="#505050" stroke-width="1" fill="none" shape-rendering="crispEdges"/>
<path d="M356 6h3M367 14.0v3" stroke="#505050" stroke-width="1" fill="none" shape-rendering="crispEdges"/>
<path d="M356 13.5C359 9 361 7 363 7S367 9.5 368.5 11" stroke="#2a9a2a" stroke-width="1.2" fill="none"/>
<line x1="397" y1="12" x2="402" y2="16.8" stroke="#dcaa28" stroke-width="2.6" stroke-linecap="round"/>
<circle cx="393" cy="8" r="5.4" fill="#e2eefc" stroke="#3d74d6" stroke-width="1.3"/>
<path d="M390 8h6M393 5v6" stroke="#3d74d6" stroke-width="1.6" fill="none"/>
<line x1="425" y1="12" x2="430" y2="16.8" stroke="#dcaa28" stroke-width="2.6" stroke-linecap="round"/>
<circle cx="421" cy="8" r="5.4" fill="#e2eefc" stroke="#3d74d6" stroke-width="1.3"/>
<path d="M418 8h6" stroke="#3d74d6" stroke-width="1.6" fill="none"/>
<rect x="443" y="2" width="8" height="7.75" fill="#4aa820" />
<rect x="444.5" y="4.5" width="5" height="3.5" fill="#e8f0ff" fill-opacity="0.8"/>
<rect x="451" y="2" width="8" height="7.75" fill="#2f62d8" />
<rect x="452.5" y="4.5" width="5" height="3.5" fill="#e8f0ff" fill-opacity="0.8"/>
<rect x="443" y="9.75" width="8" height="7.75" fill="#2f62d8" />
<rect x="444.5" y="12.25" width="5" height="3.5" fill="#e8f0ff" fill-opacity="0.8"/>
<rect x="451" y="9.75" width="8" height="7.75" fill="#4aa820" />
<rect x="452.5" y="12.25" width="5" height="3.5" fill="#e8f0ff" fill-opacity="0.8"/>
<path d="M481.5 4v14M479 15.5h14" stroke="#505050" stroke-width="1" fill="none" shape-rendering="crispEdges"/>
<path d="M480 6h3M491 14.0v3" stroke="#505050" stroke-width="1" fill="none" shape-rendering="crispEdges"/>
<polygon points="486.3,7 486.3,12.6 490.2,9.8" fill="#4ad04a" stroke="#158a15" stroke-width="0.9"/>
<path d="M509.5 4v14M507 15.5h14" stroke="#505050" stroke-width="1" fill="none" shape-rendering="crispEdges"/>
<path d="M508 6h3M519 14.0v3" stroke="#505050" stroke-width="1" fill="none" shape-rendering="crispEdges"/>
<path d="M515.5 4v9.5" stroke="#2a6ad0" stroke-width="1.2" shape-rendering="crispEdges"/>
<path d="M521 9h-4M519 7l-2.2 2l2.2 2" stroke="#d03818" stroke-width="1.1" fill="none"/>
<path d="M540.5 3h7l4 4v9h-11z" fill="#fdfdfd" stroke="#7a7a7a" stroke-width="1"/>
<path d="M543.0 6.5h3M543.0 9h5M543.0 11.5h3" stroke="#909090" stroke-width="1" fill="none"/>
<path d="M548.5 8.0h4v3.5h3.5v4h-3.5v3.5h-4v-3.5h-3.5v-4h3.5z" fill="#2ec22e" stroke="#138a13" stroke-width="0.9"/>
<polygon points="562.0,9 567.5,9 564.75,12" fill="#000"/>
<circle cx="586" cy="10" r="7" fill="#f4f8ff" stroke="#2560c8" stroke-width="2.2"/>
<path d="M586 5.5v4.8h3.4" stroke="#505860" stroke-width="1.1" fill="none"/>
<polygon points="601.0,9 606.5,9 603.75,12" fill="#000"/>
<rect x="617.5" y="3.5" width="15" height="13" fill="#ffffff" stroke="#3a6fd0" stroke-width="1.2" rx="1"/>
<rect x="618" y="4" width="14" height="2" fill="#5c8ee8" />
<path d="M618 10.5h14" stroke="#7ca0e0" stroke-width="1"/>
<path d="M620 9l2.5-1.2l2.5.8l2.5-1.4l2.5.6" stroke="#c82818" stroke-width="1.2" fill="none"/>
<path d="M620 14.5l2.5-1.6l2.5 1l2.5-1.8l2.5 1.6" stroke="#1c9a1c" stroke-width="1.2" fill="none"/>
<polygon points="640.0,9 645.5,9 642.75,12" fill="#000"/>
<path d="M669 3.5v11.5l2.8-2.6l2.2 4.6l1.8-.9l-2.2-4.4h3.9z" fill="#404040"/>
<path d="M701.5 3v5.5M701.5 11.5v6M694 10h6M703 10h6.5" stroke="#505050" stroke-width="1" fill="none" shape-rendering="crispEdges"/>
<path d="M735.5 4v12.5M758 10.5h12.5" stroke="#505050" stroke-width="1" fill="none" shape-rendering="crispEdges"/>
<path d="M786 16.5L798 5" stroke="#505050" stroke-width="1.1" fill="none"/>
<path d="M811.5 12L825 3.5M813.5 16.5L826 8.5M815 9.5l1 6M818.5 7l1.5 6.5M822.5 4.5l1.5 5.5" stroke="#505050" stroke-width="1" fill="none"/>
<text x="822.8" y="18.6" font-family="Liberation Sans, sans-serif" font-size="6" font-weight="bold" fill="#303030">E</text>
<line x1="841" y1="3.5" x2="854" y2="3.5" stroke="#505050" stroke-width="1" stroke-dasharray="1 1" shape-rendering="crispEdges"/>
<line x1="841" y1="6.5" x2="854" y2="6.5" stroke="#505050" stroke-width="1" stroke-dasharray="1 1" shape-rendering="crispEdges"/>
<line x1="841" y1="9.5" x2="854" y2="9.5" stroke="#505050" stroke-width="1" stroke-dasharray="1 1" shape-rendering="crispEdges"/>
<line x1="841" y1="12" x2="854" y2="12" stroke="#505050" stroke-width="1" stroke-dasharray="1 1" shape-rendering="crispEdges"/>
<line x1="841" y1="14.5" x2="850" y2="14.5" stroke="#505050" stroke-width="1" stroke-dasharray="1 1" shape-rendering="crispEdges"/>
<text x="851" y="18.6" font-family="Liberation Sans, sans-serif" font-size="6" font-weight="bold" fill="#303030">F</text>
<text x="871.3" y="14.6" font-family="Liberation Sans, sans-serif" font-size="11.5" font-weight="bold" fill="#5a5a5a">A</text>
<rect x="898.5" y="3.5" width="11" height="13" fill="none" stroke="#505050" stroke-width="1" stroke-dasharray="1 1" shape-rendering="crispEdges"/>
<text x="900.3" y="14.6" font-family="Liberation Sans, sans-serif" font-size="11" font-weight="bold" fill="#5a5a5a">T</text>
<path d="M928.5 3.5l3 3l-3 3l-3-3z M936 10.5l3 3l-3 3l-3-3z" fill="#484848"/>
<path d="M927.5 11l2.2 2.4l5-6.4" stroke="#484848" stroke-width="1.3" fill="none"/>
<polygon points="946.0,9 951.5,9 948.75,12" fill="#000"/>
<text x="979" y="13.6" font-family="Liberation Sans, sans-serif" font-size="9.8" fill="#404040" text-anchor="middle">M1</text>
<text x="1006.7" y="13.6" font-family="Liberation Sans, sans-serif" font-size="9.8" fill="#404040" text-anchor="middle">M5</text>
<text x="1035" y="13.6" font-family="Liberation Sans, sans-serif" font-size="9.8" fill="#404040" text-anchor="middle">M15</text>
<text x="1063.5" y="13.6" font-family="Liberation Sans, sans-serif" font-size="9.8" fill="#404040" text-anchor="middle">M30</text>
<text x="1091" y="13.6" font-family="Liberation Sans, sans-serif" font-size="9.8" fill="#404040" text-anchor="middle">H1</text>
<text x="1118.5" y="13.6" font-family="Liberation Sans, sans-serif" font-size="9.8" fill="#404040" text-anchor="middle">H4</text>
<text x="1147.5" y="13.6" font-family="Liberation Sans, sans-serif" font-size="9.8" fill="#404040" text-anchor="middle">D1</text>
<text x="1176" y="13.6" font-family="Liberation Sans, sans-serif" font-size="9.8" fill="#404040" text-anchor="middle">W1</text>
<text x="1203" y="13.6" font-family="Liberation Sans, sans-serif" font-size="9.8" fill="#404040" text-anchor="middle">MN</text>
<line x1="1681" y1="14.5" x2="1685" y2="10.5" stroke="#2a5fd0" stroke-width="2.2" stroke-linecap="round"/>
<circle cx="1688.3" cy="7.3" r="3.6" fill="#f4f8ff" stroke="#3a6fd8" stroke-width="1.5"/>
<path d="M1716 3.5h8a3 3 0 0 1 3 3v1.5a3 3 0 0 1-3 3h-.5l1 2.5l-3.5-2.5h-5a3 3 0 0 1-3-3v-1.5a3 3 0 0 1 3-3z" fill="#ededed" stroke="#9a9a9a" stroke-width="1"/>
<path d="M1710 7h6a2.5 2.5 0 0 1 2.500 2.500v1.500a2.500 2.500 0 0 1-2.500 2.500h-3l-3 2.500l.8-2.500h-.8a2.500 2.500 0 0 1-2.500-2.500v-1.500a2.500 2.500 0 0 1 2.500-2.500z" fill="#f6f6f6" stroke="#8a8a8a" stroke-width="1"/>
</g>
</svg></body></html>
